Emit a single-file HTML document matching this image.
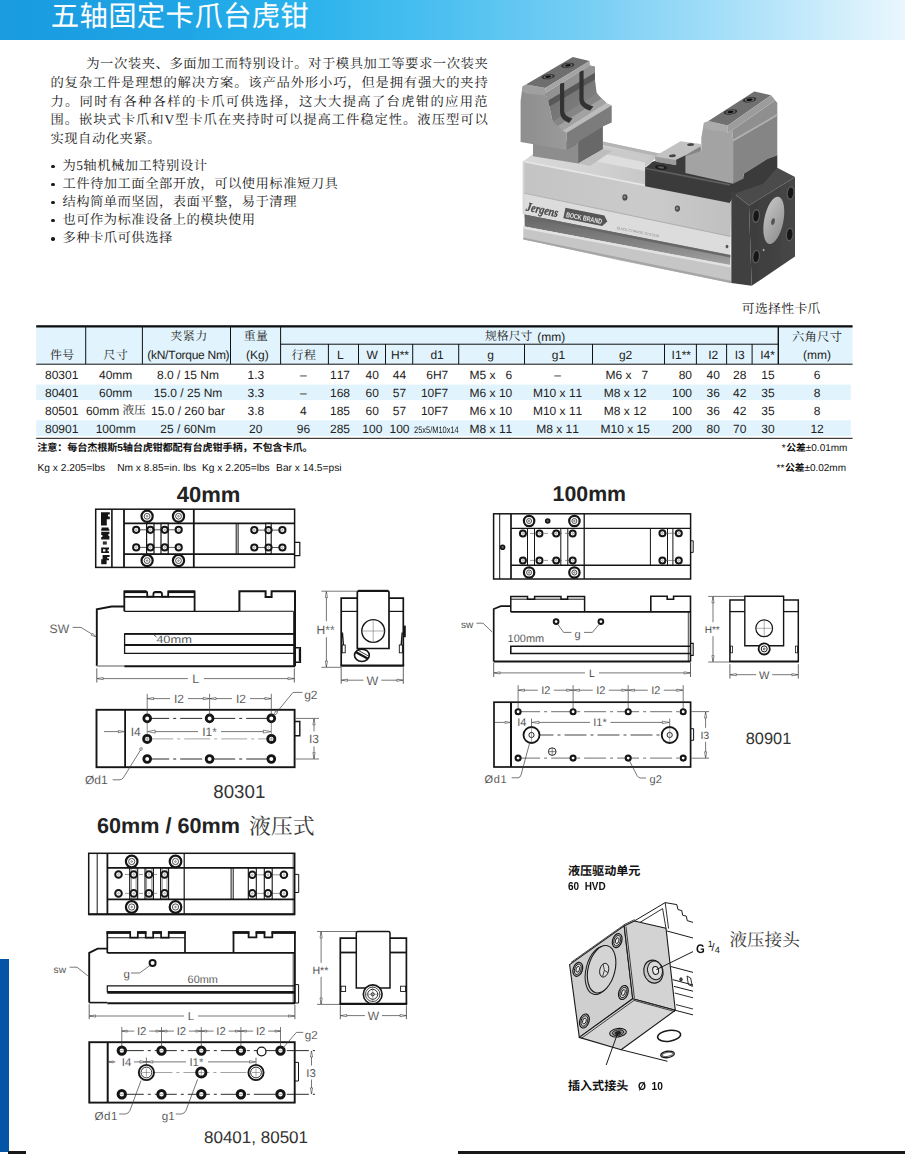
<!DOCTYPE html><html lang="zh"><head><meta charset="utf-8"><title>五轴固定卡爪台虎钳</title><style>
html,body{margin:0;padding:0;background:#fff}
body{width:905px;height:1164px;position:relative;overflow:hidden;font-family:"Liberation Sans",sans-serif;text-rendering:geometricPrecision;font-kerning:none}
svg text{text-rendering:geometricPrecision;font-kerning:none}
.hd{position:absolute;left:0;top:0;width:905px;height:40px;background:linear-gradient(90deg,#1a9be0 0,#1fa5e5 20%,#29b2ec 33%,#4fc1f0 50%,#7acff4 66%,#afe2f9 83%,#eaf7fd 100%)}
.t{position:absolute;white-space:nowrap;line-height:1}
.a{position:absolute;white-space:nowrap;line-height:1}
.sf{font-family:"Liberation Serif","Noto Serif CJK SC",serif}
.ss{font-family:"Liberation Sans","Noto Sans CJK SC",sans-serif}
svg.l{position:absolute;left:0;top:0}
.bl{position:absolute;font-size:11px;line-height:1;color:#1a1a1a;left:52.2px}
</style></head><body>
<div class="hd"></div>
<svg class="l" width="905" height="1164" viewBox="0 0 905 1164"><defs>
<filter id="pb" x="-5%" y="-5%" width="110%" height="110%"><feGaussianBlur stdDeviation="0.55"/></filter>
<filter id="pb2" x="-20%" y="-20%" width="140%" height="140%"><feGaussianBlur stdDeviation="1.6"/></filter>
<linearGradient id="pTop" x1="0" y1="0" x2="1" y2="0"><stop offset="0" stop-color="#d9d9d9"/><stop offset=".5" stop-color="#d2d2d2"/><stop offset="1" stop-color="#c4c4c4"/></linearGradient>
<linearGradient id="pFr" x1="0" y1="0" x2="1" y2="0"><stop offset="0" stop-color="#c4c4c4"/><stop offset=".6" stop-color="#cbcbcb"/><stop offset="1" stop-color="#c0c0c0"/></linearGradient>
<linearGradient id="pGr" x1="0" y1="0" x2="0" y2="1"><stop offset="0" stop-color="#646464"/><stop offset=".55" stop-color="#828282"/><stop offset="1" stop-color="#a2a2a2"/></linearGradient>
<linearGradient id="pJL" x1="0" y1="0" x2="1" y2="0"><stop offset="0" stop-color="#8e8e8e"/><stop offset="1" stop-color="#9a9a9a"/></linearGradient>
<linearGradient id="pJR" x1="0" y1="0" x2="1" y2="1"><stop offset="0" stop-color="#6a6a6a"/><stop offset=".6" stop-color="#7c7c7c"/><stop offset="1" stop-color="#909090"/></linearGradient>
<linearGradient id="pDisc" x1="0" y1="0" x2="1" y2="1"><stop offset="0" stop-color="#c6c6c6"/><stop offset="1" stop-color="#8e8e8e"/></linearGradient>
<linearGradient id="pEnd" x1="0" y1="0" x2="1" y2="0"><stop offset="0" stop-color="#3c3c3c"/><stop offset="1" stop-color="#474747"/></linearGradient>
</defs><g filter="url(#pb)"><polygon points="523.3,161.2 533.0,154.0 603.0,142.0 662.0,154.3 656.0,158.0 645.1,167.7 645.1,186.3" fill="url(#pTop)" /><polygon points="603.0,141.6 662.0,153.9 658.6,156.6 603.4,145.0" fill="#b4b4b4" /><polygon points="603.0,147.0 650.0,157.0 645.1,162.5 603.0,153.6" fill="#cacaca" /><polygon points="590.0,160.0 603.0,153.6 645.1,162.5 645.1,171.0 612.0,164.6" fill="#dedede" /><polygon points="523.3,161.2 731.3,202.7 730.6,236.3 523.3,193.0" fill="url(#pFr)" /><polygon points="523.3,160.4 645.3,184.6 645.3,186.2 523.3,162.2" fill="#e6e6e6" /><polygon points="523.3,193.0 730.6,236.3 730.4,254.9 523.3,214.3" fill="#dcdcdc" /><polygon points="523.3,192.4 730.6,235.7 730.6,236.9 523.3,193.6" fill="#b0b0b0" /><polygon points="524.6,214.5 730.4,254.9 730.4,265.5 524.6,226.6" fill="url(#pGr)" /><polygon points="524.6,214.5 730.4,254.9 730.4,257.4 524.6,217.2" fill="#686868" /><polygon points="523.3,226.6 730.8,265.5 731.3,283.1 619.6,260.4 523.3,239.2" fill="#c6c6c6" /><polygon points="523.3,226.2 730.8,265.1 730.8,267.6 523.3,228.8" fill="#e2e2e2" /><polygon points="523.3,237.4 731.0,280.8 731.3,283.3 523.3,239.6" fill="#a6a6a6" /><polygon points="522.6,161.0 524.4,161.4 524.4,214.5 522.6,214.1" fill="#d6d6d6" /><ellipse cx="624.9" cy="197.4" rx="2.6" ry="3.1" fill="#4a4a4a" /><ellipse cx="624.6" cy="197.0" rx="1.2" ry="1.5" fill="#8a8a8a" /><ellipse cx="677.4" cy="208.6" rx="2.6" ry="3.1" fill="#4a4a4a" /><ellipse cx="677.1" cy="208.2" rx="1.2" ry="1.5" fill="#8a8a8a" /><ellipse cx="727.0" cy="246.6" rx="1.4" ry="1.8" fill="#555" /><g transform="translate(525.6 210.6) rotate(11.5) scale(.80 1)"><text x="0" y="0" font-family="Liberation Serif, serif" font-style="italic" font-weight="bold" font-size="12.6" fill="#484848" stroke="#484848" stroke-width=".3">Jergens</text></g><g transform="rotate(11.2 564 213)"><path d="M564.4 207.6H604.0L608.2 213.0L604.0 218.4H564.4Z" fill="#555"/><text x="566.4" y="216.6" font-family="Liberation Sans, sans-serif" font-weight="bold" font-size="7.2" fill="#e8e8e8" textLength="36.5" lengthAdjust="spacingAndGlyphs">BOCK BRAND</text></g><text x="616.4" y="229.0" font-family="Liberation Sans, sans-serif" font-size="3.6" fill="#8a8a8a" transform="rotate(11.2 616.4 229)" textLength="43" lengthAdjust="spacing">QUICK CHANGE SYSTEM</text><polygon points="533.0,141.0 578.3,141.0 578.3,163.4 533.0,156.3" fill="#8d8d8d" /><polygon points="578.1,141.0 602.9,126.0 602.9,149.2 578.1,163.4" fill="#686868" /><polygon points="578.3,163.4 602.9,149.2 612.0,151.0 590.0,166.0" fill="#bdbdbd" /><polygon points="522.4,87.0 544.5,95.1 548.0,96.9 549.8,108.3 552.4,120.7 563.0,130.4 566.6,131.6 566.6,150.0 520.6,142.0 520.6,101.0" fill="url(#pJL)" /><polygon points="548.0,96.9 589.9,65.6 594.9,66.8 594.9,79.2 596.6,92.4 600.5,98.6 606.4,103.0 563.0,130.4 552.4,120.7 549.8,108.3" fill="url(#pJR)" /><polygon points="546.2,92.4 589.9,65.6 594.9,66.8 594.9,72.8 548.4,100.6" fill="#929292" /><polygon points="548.4,100.6 594.9,72.8 594.9,79.4 549.4,106.6" fill="#585858" /><polygon points="552.8,121.4 596.8,93.4 606.4,103.0 563.0,130.4" fill="#858585" /><polygon points="558.0,126.0 601.5,98.6 606.4,103.0 563.0,130.4" fill="#a2a2a2" /><polygon points="544.0,95.0 546.2,92.0 549.0,100.4 548.4,97.2" fill="#8a8a8a" /><path d="M560.0 83.0H564.2V111.6Q565.0 116.4 572.4 118.6L569.0 123.0Q560.4 119.6 560.0 112.6Z" fill="#333"/><path d="M579.4 70.4H583.6V99.2Q584.4 104.0 593.4 106.4L590.0 110.8Q579.8 107.2 579.4 100.2Z" fill="#333"/><polygon points="563.0,130.4 606.4,103.0 611.7,105.2 566.6,132.9" fill="#bcbcbc" /><polygon points="566.6,132.7 611.7,105.2 611.7,122.5 602.8,126.6 578.1,142.0 575.4,145.6 566.6,150.0" fill="#7b7b7b" /><polygon points="522.4,86.2 525.9,84.4 545.4,88.0 546.2,92.4 544.5,95.3 525.9,93.4 522.4,91.6" fill="#a0a0a0" /><polygon points="525.9,84.5 572.8,57.0 589.6,61.0 545.4,88.0" fill="#6e6e6e" /><polygon points="545.4,88.0 589.6,61.0 589.9,65.7 546.2,92.4" fill="#a4a4a4" /><ellipse cx="548.2" cy="76.7" rx="6.6" ry="2.5" fill="#333" transform="rotate(-8.0 548.2 76.7)" /><ellipse cx="548.2" cy="76.7" rx="4.6" ry="1.7" fill="#6a6a6a" transform="rotate(-8.0 548.2 76.7)" /><ellipse cx="548.2" cy="76.7" rx="3.0" ry="1.1" fill="#111" transform="rotate(-8.0 548.2 76.7)" /><ellipse cx="567.8" cy="65.3" rx="6.6" ry="2.5" fill="#333" transform="rotate(-8.0 567.8 65.3)" /><ellipse cx="567.8" cy="65.3" rx="4.6" ry="1.7" fill="#6a6a6a" transform="rotate(-8.0 567.8 65.3)" /><ellipse cx="567.8" cy="65.3" rx="3.0" ry="1.1" fill="#111" transform="rotate(-8.0 567.8 65.3)" /><polygon points="645.1,167.7 656.0,160.6 690.0,166.0 733.1,181.5 743.7,176.0 743.7,173.6 767.6,158.6 777.3,155.0 777.3,170.0 763.1,185.0 733.1,196.0 730.0,203.1 645.1,186.3" fill="#3b3b3b" /><polygon points="645.1,167.2 730.0,184.0 730.0,185.8 645.1,169.0" fill="#5e5e5e" /><polygon points="652.0,162.0 686.5,150.0 686.5,174.0 646.0,168.0" fill="#3b3b3b" /><polygon points="654.9,156.2 680.5,141.2 700.8,143.9 701.3,151.0 684.9,155.6 676.1,159.8 676.1,165.0 655.7,161.5" fill="#c2c2c2" /><polygon points="654.9,156.4 676.1,160.0 676.1,165.2 655.7,161.7" fill="#9c9c9c" /><polygon points="684.9,155.6 700.4,146.4 701.3,151.0 688.0,158.4" fill="#858585" /><ellipse cx="690.6" cy="144.6" rx="3.4" ry="1.4" fill="#444" transform="rotate(-6.0 690.6 144.6)" /><ellipse cx="672.4" cy="155.8" rx="3.4" ry="1.4" fill="#444" transform="rotate(-6.0 672.4 155.8)" /><ellipse cx="661.0" cy="167.4" rx="6.0" ry="2.3" fill="#1c1c1c" transform="rotate(6.0 661.0 167.4)" /><ellipse cx="661.0" cy="167.4" rx="3.2" ry="1.2" fill="#5a5a5a" transform="rotate(6.0 661.0 167.4)" /><polygon points="703.9,122.7 727.8,132.4 732.2,130.3 733.1,141.3 733.1,183.7 685.4,173.1 685.4,156.3 701.3,151.0 701.3,137.7" fill="#a3a3a3" /><polygon points="733.1,141.3 777.3,115.6 777.3,155.4 767.6,159.0 743.7,174.0 743.7,178.4 733.1,183.7" fill="#858585" /><polygon points="732.2,130.3 775.2,100.3 777.3,103.0 777.3,115.6 733.1,141.3" fill="#8f8f8f" /><polygon points="733.0,139.6 777.3,113.8 777.3,115.6 733.1,141.6" fill="#b0b0b0" /><polygon points="703.9,122.7 708.3,120.9 727.8,125.4 727.8,132.4 708.3,129.8 703.9,127.4" fill="#ababab" /><polygon points="708.3,120.9 754.3,91.4 771.1,95.3 727.8,125.4" fill="#707070" /><polygon points="727.8,125.4 771.1,95.3 775.2,100.3 732.2,130.3 727.8,132.4" fill="#9c9c9c" /><ellipse cx="730.6" cy="112.0" rx="6.8" ry="2.6" fill="#333" transform="rotate(-8.0 730.6 112.0)" /><ellipse cx="730.6" cy="112.0" rx="4.7" ry="1.8" fill="#6a6a6a" transform="rotate(-8.0 730.6 112.0)" /><ellipse cx="730.6" cy="112.0" rx="3.1" ry="1.2" fill="#111" transform="rotate(-8.0 730.6 112.0)" /><ellipse cx="749.6" cy="99.8" rx="6.8" ry="2.6" fill="#333" transform="rotate(-8.0 749.6 99.8)" /><ellipse cx="749.6" cy="99.8" rx="4.7" ry="1.8" fill="#6a6a6a" transform="rotate(-8.0 749.6 99.8)" /><ellipse cx="749.6" cy="99.8" rx="3.1" ry="1.2" fill="#111" transform="rotate(-8.0 749.6 99.8)" /><polygon points="731.3,191.2 733.1,194.3 763.1,183.7 777.3,167.8 795.0,177.1 749.0,205.4" fill="#4c4c4c" /><polygon points="731.3,191.2 749.0,205.4 751.7,285.8 731.3,283.1" fill="#414141" /><polygon points="749.0,205.4 795.0,177.1 795.0,256.6 751.7,285.8" fill="url(#pEnd)" /><ellipse cx="773.8" cy="220.4" rx="9.6" ry="24.0" fill="url(#pDisc)" transform="rotate(11.0 773.8 220.4)" /><ellipse cx="773.0" cy="221.6" rx="1.8" ry="3.4" fill="#555" transform="rotate(11.0 773.0 221.6)" /><ellipse cx="790.6" cy="193.0" rx="3.9" ry="7.0" fill="#5a5a5a" transform="rotate(6.0 790.6 193.0)" /><ellipse cx="790.6" cy="193.0" rx="2.7" ry="5.6" fill="#161616" transform="rotate(6.0 790.6 193.0)" /><ellipse cx="756.1" cy="216.0" rx="3.9" ry="7.0" fill="#5a5a5a" transform="rotate(6.0 756.1 216.0)" /><ellipse cx="756.1" cy="216.0" rx="2.7" ry="5.6" fill="#161616" transform="rotate(6.0 756.1 216.0)" /><ellipse cx="789.7" cy="234.5" rx="3.9" ry="7.0" fill="#5a5a5a" transform="rotate(6.0 789.7 234.5)" /><ellipse cx="789.7" cy="234.5" rx="2.7" ry="5.6" fill="#161616" transform="rotate(6.0 789.7 234.5)" /><ellipse cx="756.1" cy="256.6" rx="3.9" ry="7.0" fill="#5a5a5a" transform="rotate(6.0 756.1 256.6)" /><ellipse cx="756.1" cy="256.6" rx="2.7" ry="5.6" fill="#161616" transform="rotate(6.0 756.1 256.6)" /><ellipse cx="763.6" cy="250.0" rx="0.9" ry="1.2" fill="#aaa" /></g></svg>
<svg class="l" width="905" height="1164" viewBox="0 0 905 1164"><rect x="36.2" y="326.5" width="816.4" height="37.6" fill="#e1f3fc"/><rect x="36.2" y="384.6" width="814.6" height="15.5" fill="#e1f3fc"/><rect x="36.2" y="420.3" width="814.6" height="15.6" fill="#e1f3fc"/><rect x="36.2" y="325.2" width="816.4" height="2.3" fill="#111"/><rect x="36.2" y="363.7" width="816.4" height="1" fill="#111"/><rect x="36.2" y="437.8" width="816.4" height="1" fill="#111"/><rect x="280.6" y="343.7" width="497.7" height="1" fill="#111"/><rect x="85.2" y="327" width="1" height="37" fill="#111"/><rect x="141.9" y="327" width="1" height="37" fill="#111"/><rect x="230.0" y="327" width="1" height="37" fill="#111"/><rect x="280.1" y="327" width="1" height="37" fill="#111"/><rect x="327.9" y="344" width="1" height="20" fill="#111"/><rect x="358.0" y="344" width="1" height="20" fill="#111"/><rect x="385.0" y="344" width="1" height="20" fill="#111"/><rect x="412.2" y="344" width="1" height="20" fill="#111"/><rect x="458.2" y="344" width="1" height="20" fill="#111"/><rect x="524.0" y="344" width="1" height="20" fill="#111"/><rect x="592.0" y="344" width="1" height="20" fill="#111"/><rect x="664.0" y="344" width="1" height="20" fill="#111"/><rect x="695.9" y="344" width="1" height="20" fill="#111"/><rect x="726.1" y="344" width="1" height="20" fill="#111"/><rect x="751.6" y="344" width="1" height="20" fill="#111"/><rect x="777.6" y="327" width="1.4" height="37" fill="#111"/></svg>
<svg class="l" width="905" height="1164" viewBox="0 0 905 1164" fill="none" font-family="Liberation Sans, sans-serif" stroke-linecap="butt" stroke-linejoin="miter"><rect x="95.7" y="509.2" width="198.9" height="58.2" stroke="#151515" stroke-width="1.50" fill="none"/><path d="M111.9 509.2L111.9 567.4" stroke="#151515" stroke-width="1.60" /><path d="M124.0 509.2L124.0 567.4" stroke="#151515" stroke-width="1.80" /><path d="M193.8 509.2L193.8 567.4" stroke="#151515" stroke-width="1.80" /><path d="M124.0 523.3L294.6 523.3" stroke="#151515" stroke-width="1.80" /><path d="M124.0 554.2L294.6 554.2" stroke="#151515" stroke-width="1.80" /><path d="M101 512.2H109.8V514.6H108V516.4H109.8V519.2H106.8V525.4H101Z" stroke="#151515" stroke-width="0.00" fill="#151515" /><path d="M101.6 527.4H108.6V529.2H109.4V530.8H101.2V529H101.6ZM101.2 531.7H109.4V534H108.4V536H109.4V539.5H101.2V537H102.4V535H101.2Z" stroke="#151515" stroke-width="0.00" fill="#151515" /><path d="M102.8 541.4H106.8V544.6H102.8Z" stroke="#333" stroke-width="0.00" fill="#333" /><path d="M101.2 547.6H109V549.4H107.6V551.2H109V553.1H101.2ZM103 549.2V551.4H105.4V549.2Z" stroke="#151515" stroke-width="0.00" fill="#151515" fill-rule="evenodd"/><path d="M101.2 564.3V559.2H102.6V555.1H109.6V557H107.2V558.6H109V560.2H106.6V564.3Z" stroke="#151515" stroke-width="0.00" fill="#151515" /><rect x="146.6" y="523.3" width="7.4" height="30.9" stroke="#151515" stroke-width="1.20" fill="none"/><rect x="161.0" y="523.3" width="7.2" height="30.9" stroke="#151515" stroke-width="1.20" fill="none"/><path d="M136.0 529.8L179.0 529.8" stroke="#151515" stroke-width="0.70" /><path d="M136.0 547.4L179.0 547.4" stroke="#151515" stroke-width="0.70" /><circle cx="147.1" cy="516.3" r="5.60" stroke="#151515" stroke-width="2.20" fill="#fff"/><circle cx="147.1" cy="516.3" r="2.90" stroke="#222" stroke-width="0.80" fill="none"/><circle cx="147.1" cy="516.3" r="0.80" stroke="#333" stroke-width="0.60" fill="none"/><circle cx="147.1" cy="560.6" r="5.60" stroke="#151515" stroke-width="2.20" fill="#fff"/><circle cx="147.1" cy="560.6" r="2.90" stroke="#222" stroke-width="0.80" fill="none"/><circle cx="147.1" cy="560.6" r="0.80" stroke="#333" stroke-width="0.60" fill="none"/><circle cx="178.5" cy="516.3" r="5.60" stroke="#151515" stroke-width="2.20" fill="#fff"/><circle cx="178.5" cy="516.3" r="2.90" stroke="#222" stroke-width="0.80" fill="none"/><circle cx="178.5" cy="516.3" r="0.80" stroke="#333" stroke-width="0.60" fill="none"/><circle cx="178.5" cy="560.6" r="5.60" stroke="#151515" stroke-width="2.20" fill="#fff"/><circle cx="178.5" cy="560.6" r="2.90" stroke="#222" stroke-width="0.80" fill="none"/><circle cx="178.5" cy="560.6" r="0.80" stroke="#333" stroke-width="0.60" fill="none"/><circle cx="136.2" cy="529.8" r="3.10" stroke="#151515" stroke-width="2.00" fill="#fff"/><circle cx="136.2" cy="529.8" r="0.80" stroke="#666" stroke-width="0.50" fill="none"/><circle cx="136.2" cy="547.4" r="3.10" stroke="#151515" stroke-width="2.00" fill="#fff"/><circle cx="136.2" cy="547.4" r="0.80" stroke="#666" stroke-width="0.50" fill="none"/><circle cx="150.4" cy="529.8" r="3.10" stroke="#151515" stroke-width="2.00" fill="#fff"/><circle cx="150.4" cy="529.8" r="0.80" stroke="#666" stroke-width="0.50" fill="none"/><circle cx="150.4" cy="547.4" r="3.10" stroke="#151515" stroke-width="2.00" fill="#fff"/><circle cx="150.4" cy="547.4" r="0.80" stroke="#666" stroke-width="0.50" fill="none"/><circle cx="164.7" cy="529.8" r="3.10" stroke="#151515" stroke-width="2.00" fill="#fff"/><circle cx="164.7" cy="529.8" r="0.80" stroke="#666" stroke-width="0.50" fill="none"/><circle cx="164.7" cy="547.4" r="3.10" stroke="#151515" stroke-width="2.00" fill="#fff"/><circle cx="164.7" cy="547.4" r="0.80" stroke="#666" stroke-width="0.50" fill="none"/><circle cx="178.7" cy="529.8" r="3.10" stroke="#151515" stroke-width="2.00" fill="#fff"/><circle cx="178.7" cy="529.8" r="0.80" stroke="#666" stroke-width="0.50" fill="none"/><circle cx="178.7" cy="547.4" r="3.10" stroke="#151515" stroke-width="2.00" fill="#fff"/><circle cx="178.7" cy="547.4" r="0.80" stroke="#666" stroke-width="0.50" fill="none"/><path d="M236.2 523.3L236.2 554.2" stroke="#151515" stroke-width="1.00" /><path d="M238.1 523.3L238.1 554.2" stroke="#151515" stroke-width="1.00" /><rect x="265.7" y="523.3" width="5.5" height="30.9" stroke="#151515" stroke-width="1.10" fill="none"/><path d="M254.0 530.1L283.0 530.1" stroke="#151515" stroke-width="0.70" /><path d="M254.0 547.5L283.0 547.5" stroke="#151515" stroke-width="0.70" /><circle cx="254.3" cy="530.1" r="3.10" stroke="#151515" stroke-width="2.00" fill="#fff"/><circle cx="254.3" cy="530.1" r="0.80" stroke="#666" stroke-width="0.50" fill="none"/><circle cx="254.3" cy="547.5" r="3.10" stroke="#151515" stroke-width="2.00" fill="#fff"/><circle cx="254.3" cy="547.5" r="0.80" stroke="#666" stroke-width="0.50" fill="none"/><circle cx="268.5" cy="530.1" r="3.10" stroke="#151515" stroke-width="2.00" fill="#fff"/><circle cx="268.5" cy="530.1" r="0.80" stroke="#666" stroke-width="0.50" fill="none"/><circle cx="268.5" cy="547.5" r="3.10" stroke="#151515" stroke-width="2.00" fill="#fff"/><circle cx="268.5" cy="547.5" r="0.80" stroke="#666" stroke-width="0.50" fill="none"/><circle cx="282.4" cy="530.1" r="3.10" stroke="#151515" stroke-width="2.00" fill="#fff"/><circle cx="282.4" cy="530.1" r="0.80" stroke="#666" stroke-width="0.50" fill="none"/><circle cx="282.4" cy="547.5" r="3.10" stroke="#151515" stroke-width="2.00" fill="#fff"/><circle cx="282.4" cy="547.5" r="0.80" stroke="#666" stroke-width="0.50" fill="none"/><path d="M294.6 542.4H299.8V555.7H294.6" stroke="#151515" stroke-width="1.20" fill="none" /><path d="M124.3 606.5H111.6L96.8 609.4V666.0" stroke="#151515" stroke-width="1.90" fill="none" /><path d="M96.8 666.0L124.3 666.0" stroke="#999" stroke-width="1.60" /><path d="M124.3 666.2L295.0 666.2" stroke="#151515" stroke-width="2.00" /><path d="M124.3 611.3V591.3H145.6Q147.2 591.3 147.2 593V596.6H153.4V594.2Q153.4 591.8 155.8 591.8H159.6Q162 591.8 162 594.2V596.6H168.2V591.3H194.6V611.3" stroke="#151515" stroke-width="1.80" fill="none" /><path d="M124.3 591.8L146.4 591.8" stroke="#151515" stroke-width="2.60" /><path d="M168.4 591.8L194.6 591.8" stroke="#151515" stroke-width="2.60" /><path d="M154.6 592.2L160.8 592.2" stroke="#151515" stroke-width="2.00" /><path d="M124.3 596.8L194.6 596.8" stroke="#151515" stroke-width="1.80" /><path d="M124.3 611.3L239.2 611.3" stroke="#151515" stroke-width="1.20" /><path d="M239.4 611.3V591.3H265.6V597.0H271.6V591.3H295.0V666.2" stroke="#151515" stroke-width="2.00" fill="none" /><path d="M239.4 611.3L293.6 611.3" stroke="#151515" stroke-width="1.10" /><path d="M293.6 611.3L293.6 666.0" stroke="#151515" stroke-width="0.90" /><path d="M295 633.8H124.6V653.4H295" stroke="#151515" stroke-width="1.30" fill="none" /><path d="M124.6 633.8L295.0 633.8" stroke="#151515" stroke-width="1.80" /><path d="M124.6 645.0L295.0 645.0" stroke="#151515" stroke-width="2.00" /><path d="M295.5 647.8H300.4V662.2H295.5" stroke="#151515" stroke-width="1.40" fill="none" /><path d="M299.6 648.5L299.6 661.5" stroke="#151515" stroke-width="1.60" /><text x="156.2" y="642.8" font-size="10.6" text-anchor="start" fill="#444" stroke="#fff" stroke-width="0.09" textLength="35.8" lengthAdjust="spacingAndGlyphs">40mm</text><path d="M154.0 634.8L156.5 637.0" stroke="#333" stroke-width="0.90" /><text x="49.5" y="633.0" font-size="12.2" text-anchor="start" fill="#383838" stroke="#fff" stroke-width="0.17" >SW</text><path d="M72.7 627.4H81.0L95.6 636.4" stroke="#3c3c3c" stroke-width="0.70" fill="none" /><path d="M95.8 636.6L91.2 635.3L92.6 633.2Z" stroke="#3c3c3c" stroke-width="0.60" fill="#fff" /><path d="M96.8 668.4L96.8 682.5" stroke="#3c3c3c" stroke-width="0.80" /><path d="M294.3 668.4L294.3 682.5" stroke="#3c3c3c" stroke-width="0.80" /><path d="M97.2 678.6L187.8 678.6" stroke="#3c3c3c" stroke-width="0.70" /><path d="M203.8 678.6L293.9 678.6" stroke="#3c3c3c" stroke-width="0.70" /><path d="M97.2 678.6L103.2 677.5L103.2 679.7Z" stroke="#3c3c3c" stroke-width="0.60" fill="#fff" /><path d="M293.9 678.6L287.9 677.5L287.9 679.7Z" stroke="#3c3c3c" stroke-width="0.60" fill="#fff" /><text x="195.8" y="683.1" font-size="12.5" text-anchor="middle" fill="#383838" stroke="#fff" stroke-width="0.18" >L</text><path d="M321.4 591.2L357.0 591.2" stroke="#3c3c3c" stroke-width="0.70" /><path d="M321.4 667.3L341.0 667.3" stroke="#3c3c3c" stroke-width="0.70" /><path d="M326.4 591.6L326.4 621.2" stroke="#3c3c3c" stroke-width="0.70" /><path d="M326.4 637.2L326.4 667.0" stroke="#3c3c3c" stroke-width="0.70" /><path d="M326.4 591.6L325.3 597.6L327.5 597.6Z" stroke="#3c3c3c" stroke-width="0.60" fill="#fff" /><path d="M326.4 667.0L325.3 661.0L327.5 661.0Z" stroke="#3c3c3c" stroke-width="0.60" fill="#fff" /><text x="325.6" y="633.5" font-size="12.0" text-anchor="middle" fill="#383838" stroke="#fff" stroke-width="0.16" >H**</text><path d="M341.2 665.4V598.2H357.2M389.0 598.2H403.3V665.4" stroke="#151515" stroke-width="1.70" fill="none" /><path d="M340.4 665.6L404.2 665.6" stroke="#151515" stroke-width="2.20" /><path d="M357.3 648.5V592.8Q357.3 590.9 359.2 590.9H387.1Q389.0 590.9 389.0 592.8V648.5Z" stroke="#151515" stroke-width="1.70" fill="none" /><path d="M358.0 590.9L388.3 590.9" stroke="#151515" stroke-width="2.20" /><path d="M341.2 611.4L357.2 611.4" stroke="#151515" stroke-width="1.20" /><path d="M389.0 611.4L403.3 611.4" stroke="#151515" stroke-width="1.20" /><circle cx="373.2" cy="631.0" r="11.40" stroke="#151515" stroke-width="1.40" fill="#fff"/><path d="M373.2 619.6L373.2 642.4" stroke="#777" stroke-width="0.60" /><path d="M361.8 631.0L384.6 631.0" stroke="#777" stroke-width="0.60" /><ellipse cx="361.9" cy="655.3" rx="7.40" ry="6.20" stroke="#151515" stroke-width="1.60" fill="#fff"/><path d="M355.6 652.0L368.0 658.8" stroke="#151515" stroke-width="2.40" /><path d="M357.2 649.8L369.2 656.4" stroke="#151515" stroke-width="0.80" /><rect x="342.2" y="645.0" width="3.0" height="7.8" stroke="#151515" stroke-width="0.90" fill="none"/><rect x="399.3" y="645.0" width="3.1" height="7.8" stroke="#151515" stroke-width="0.90" fill="none"/><path d="M342.4 632.5L343.4 645.0" stroke="#151515" stroke-width="1.40" /><path d="M402.2 632.5L401.2 645.0" stroke="#151515" stroke-width="1.40" /><path d="M404.8 625.6L404.8 637.2" stroke="#151515" stroke-width="2.00" /><path d="M341.2 667.2L341.2 683.8" stroke="#3c3c3c" stroke-width="0.80" /><path d="M403.3 667.2L403.3 683.8" stroke="#3c3c3c" stroke-width="0.80" /><path d="M341.6 680.2L363.4 680.2" stroke="#3c3c3c" stroke-width="0.70" /><path d="M381.4 680.2L402.9 680.2" stroke="#3c3c3c" stroke-width="0.70" /><path d="M341.6 680.2L347.6 679.1L347.6 681.3Z" stroke="#3c3c3c" stroke-width="0.60" fill="#fff" /><path d="M402.9 680.2L396.9 679.1L396.9 681.3Z" stroke="#3c3c3c" stroke-width="0.60" fill="#fff" /><text x="372.4" y="684.7" font-size="12.5" text-anchor="middle" fill="#383838" stroke="#fff" stroke-width="0.18" >W</text><rect x="96.5" y="709.8" width="198.1" height="57.4" stroke="#151515" stroke-width="1.90" fill="none"/><path d="M125.1 709.8L125.1 767.2" stroke="#151515" stroke-width="1.80" /><path d="M294.6 721.5H299.8V735.7H294.6" stroke="#151515" stroke-width="1.40" fill="none" /><path d="M147.2 718.4L271.3 718.4" stroke="#151515" stroke-width="0.90" stroke-dasharray="22 4 3 4"/><path d="M147.2 759.0L271.3 759.0" stroke="#151515" stroke-width="0.90" stroke-dasharray="22 4 3 4"/><path d="M147.2 738.9L271.3 738.9" stroke="#666" stroke-width="0.60" stroke-dasharray="26 4 3 4"/><circle cx="147.2" cy="718.4" r="3.40" stroke="#151515" stroke-width="2.80" fill="#fff"/><circle cx="147.2" cy="759.0" r="3.40" stroke="#151515" stroke-width="2.80" fill="#fff"/><circle cx="209.6" cy="718.4" r="3.40" stroke="#151515" stroke-width="2.80" fill="#fff"/><circle cx="209.6" cy="759.0" r="3.40" stroke="#151515" stroke-width="2.80" fill="#fff"/><circle cx="271.3" cy="718.4" r="3.40" stroke="#151515" stroke-width="2.80" fill="#fff"/><circle cx="271.3" cy="759.0" r="3.40" stroke="#151515" stroke-width="2.80" fill="#fff"/><circle cx="147.2" cy="738.9" r="3.60" stroke="#151515" stroke-width="2.80" fill="#fff"/><path d="M144.8 738.9L149.6 738.9" stroke="#666" stroke-width="0.50" /><path d="M147.2 736.5L147.2 741.3" stroke="#666" stroke-width="0.50" /><circle cx="271.3" cy="738.9" r="3.60" stroke="#151515" stroke-width="2.80" fill="#fff"/><path d="M268.9 738.9L273.7 738.9" stroke="#666" stroke-width="0.50" /><path d="M271.3 736.5L271.3 741.3" stroke="#666" stroke-width="0.50" /><path d="M147.2 693.8L147.2 715.0" stroke="#3c3c3c" stroke-width="0.70" /><path d="M209.6 693.8L209.6 715.0" stroke="#3c3c3c" stroke-width="0.70" /><path d="M271.3 693.8L271.3 715.0" stroke="#3c3c3c" stroke-width="0.70" /><path d="M147.6 698.6L170.0 698.6" stroke="#3c3c3c" stroke-width="0.70" /><path d="M188.0 698.6L209.2 698.6" stroke="#3c3c3c" stroke-width="0.70" /><path d="M147.6 698.6L153.6 697.5L153.6 699.7Z" stroke="#3c3c3c" stroke-width="0.60" fill="#fff" /><path d="M209.2 698.6L203.2 697.5L203.2 699.7Z" stroke="#3c3c3c" stroke-width="0.60" fill="#fff" /><text x="179.0" y="702.9" font-size="12.0" text-anchor="middle" fill="#383838" stroke="#fff" stroke-width="0.16" >I2</text><path d="M210.0 698.6L232.0 698.6" stroke="#3c3c3c" stroke-width="0.70" /><path d="M250.0 698.6L270.9 698.6" stroke="#3c3c3c" stroke-width="0.70" /><path d="M210.0 698.6L216.0 697.5L216.0 699.7Z" stroke="#3c3c3c" stroke-width="0.60" fill="#fff" /><path d="M270.9 698.6L264.9 697.5L264.9 699.7Z" stroke="#3c3c3c" stroke-width="0.60" fill="#fff" /><text x="241.0" y="702.9" font-size="12.0" text-anchor="middle" fill="#383838" stroke="#fff" stroke-width="0.16" >I2</text><path d="M104.0 731.6L118.5 731.6" stroke="#3c3c3c" stroke-width="0.70" /><path d="M124.4 731.6L118.4 730.5L118.4 732.7Z" stroke="#3c3c3c" stroke-width="0.60" fill="#fff" /><text x="135.7" y="735.8" font-size="12.0" text-anchor="middle" fill="#383838" stroke="#fff" stroke-width="0.16" >I4</text><path d="M147.6 731.6L155.1 730.1L155.1 733.1Z" stroke="#3c3c3c" stroke-width="0.60" fill="#fff" /><path d="M155.0 731.6L198.0 731.6" stroke="#3c3c3c" stroke-width="0.70" /><text x="209.6" y="736.0" font-size="12.0" text-anchor="middle" fill="#383838" stroke="#fff" stroke-width="0.16" >I1*</text><path d="M221.0 731.6L264.0 731.6" stroke="#3c3c3c" stroke-width="0.70" /><path d="M270.9 731.6L263.4 730.1L263.4 733.1Z" stroke="#3c3c3c" stroke-width="0.60" fill="#fff" /><path d="M147.2 722.0L147.2 735.0" stroke="#3c3c3c" stroke-width="0.60" /><path d="M271.3 722.0L271.3 735.0" stroke="#3c3c3c" stroke-width="0.60" /><path d="M295.6 718.4L319.0 718.4" stroke="#3c3c3c" stroke-width="0.70" /><path d="M295.6 759.0L319.0 759.0" stroke="#3c3c3c" stroke-width="0.70" /><path d="M314.0 718.8L314.0 731.4" stroke="#3c3c3c" stroke-width="0.70" /><path d="M314.0 746.4L314.0 758.6" stroke="#3c3c3c" stroke-width="0.70" /><path d="M314.0 718.8L312.9 724.8L315.1 724.8Z" stroke="#3c3c3c" stroke-width="0.60" fill="#fff" /><path d="M314.0 758.6L312.9 752.6L315.1 752.6Z" stroke="#3c3c3c" stroke-width="0.60" fill="#fff" /><text x="314.0" y="743.2" font-size="12.0" text-anchor="middle" fill="#383838" stroke="#fff" stroke-width="0.16" >I3</text><text x="304.2" y="699.0" font-size="12.0" text-anchor="start" fill="#383838" stroke="#fff" stroke-width="0.16" >g2</text><path d="M302.4 692.4H293.0L274.4 715.2" stroke="#3c3c3c" stroke-width="0.70" fill="none" /><path d="M274.0 715.8L275.4 711.0L277.6 712.8Z" stroke="#3c3c3c" stroke-width="0.60" fill="#fff" /><text x="85.0" y="784.4" font-size="12.0" text-anchor="start" fill="#383838" stroke="#fff" stroke-width="0.16" >Ød1</text><path d="M112.6 779.8H120.0Q122.4 779.6 123.8 777.0L142.0 747.6" stroke="#3c3c3c" stroke-width="0.70" fill="none" /><circle cx="141.0" cy="749.0" r="1.30" stroke="#3c3c3c" stroke-width="0.60" fill="#fff"/><rect x="493.6" y="513.8" width="197.0" height="65.2" stroke="#151515" stroke-width="1.50" fill="none"/><path d="M499.7 513.8L499.7 579.0" stroke="#151515" stroke-width="1.00" /><path d="M511.0 513.8L511.0 579.0" stroke="#151515" stroke-width="1.70" /><path d="M584.2 513.8L584.2 579.0" stroke="#151515" stroke-width="1.30" /><path d="M511.0 528.4L690.6 528.4" stroke="#151515" stroke-width="1.40" /><path d="M511.0 565.2L690.6 565.2" stroke="#151515" stroke-width="1.40" /><circle cx="502.6" cy="547.3" r="2.00" stroke="#151515" stroke-width="1.60" fill="#666"/><circle cx="547.7" cy="521.0" r="2.00" stroke="#151515" stroke-width="1.60" fill="#555"/><path d="M527.5 528.4L527.5 565.2" stroke="#151515" stroke-width="1.00" /><path d="M534.5 528.4L534.5 565.2" stroke="#151515" stroke-width="1.00" /><path d="M560.8 528.4L560.8 565.2" stroke="#151515" stroke-width="1.00" /><path d="M567.8 528.4L567.8 565.2" stroke="#151515" stroke-width="1.00" /><path d="M523.0 533.4L573.0 533.4" stroke="#555" stroke-width="0.60" stroke-dasharray="4 3"/><path d="M523.0 560.4L573.0 560.4" stroke="#555" stroke-width="0.60" stroke-dasharray="4 3"/><circle cx="529.1" cy="521.0" r="5.20" stroke="#151515" stroke-width="2.20" fill="#fff"/><circle cx="529.1" cy="521.0" r="2.50" stroke="#222" stroke-width="0.80" fill="none"/><circle cx="529.1" cy="521.0" r="0.80" stroke="#333" stroke-width="0.60" fill="none"/><circle cx="529.1" cy="572.5" r="5.20" stroke="#151515" stroke-width="2.20" fill="#fff"/><circle cx="529.1" cy="572.5" r="2.50" stroke="#222" stroke-width="0.80" fill="none"/><circle cx="529.1" cy="572.5" r="0.80" stroke="#333" stroke-width="0.60" fill="none"/><circle cx="574.4" cy="521.0" r="5.20" stroke="#151515" stroke-width="2.20" fill="#fff"/><circle cx="574.4" cy="521.0" r="2.50" stroke="#222" stroke-width="0.80" fill="none"/><circle cx="574.4" cy="521.0" r="0.80" stroke="#333" stroke-width="0.60" fill="none"/><circle cx="574.4" cy="572.5" r="5.20" stroke="#151515" stroke-width="2.20" fill="#fff"/><circle cx="574.4" cy="572.5" r="2.50" stroke="#222" stroke-width="0.80" fill="none"/><circle cx="574.4" cy="572.5" r="0.80" stroke="#333" stroke-width="0.60" fill="none"/><circle cx="522.9" cy="533.4" r="3.00" stroke="#151515" stroke-width="2.00" fill="#fff"/><circle cx="522.9" cy="533.4" r="0.80" stroke="#666" stroke-width="0.50" fill="none"/><circle cx="522.9" cy="560.4" r="3.00" stroke="#151515" stroke-width="2.00" fill="#fff"/><circle cx="522.9" cy="560.4" r="0.80" stroke="#666" stroke-width="0.50" fill="none"/><circle cx="539.5" cy="533.4" r="3.00" stroke="#151515" stroke-width="2.00" fill="#fff"/><circle cx="539.5" cy="533.4" r="0.80" stroke="#666" stroke-width="0.50" fill="none"/><circle cx="539.5" cy="560.4" r="3.00" stroke="#151515" stroke-width="2.00" fill="#fff"/><circle cx="539.5" cy="560.4" r="0.80" stroke="#666" stroke-width="0.50" fill="none"/><circle cx="556.2" cy="533.4" r="3.00" stroke="#151515" stroke-width="2.00" fill="#fff"/><circle cx="556.2" cy="533.4" r="0.80" stroke="#666" stroke-width="0.50" fill="none"/><circle cx="556.2" cy="560.4" r="3.00" stroke="#151515" stroke-width="2.00" fill="#fff"/><circle cx="556.2" cy="560.4" r="0.80" stroke="#666" stroke-width="0.50" fill="none"/><circle cx="572.7" cy="533.4" r="3.00" stroke="#151515" stroke-width="2.00" fill="#fff"/><circle cx="572.7" cy="533.4" r="0.80" stroke="#666" stroke-width="0.50" fill="none"/><circle cx="572.7" cy="560.4" r="3.00" stroke="#151515" stroke-width="2.00" fill="#fff"/><circle cx="572.7" cy="560.4" r="0.80" stroke="#666" stroke-width="0.50" fill="none"/><path d="M650.4 528.4L650.4 565.2" stroke="#151515" stroke-width="1.00" /><path d="M667.5 528.4L667.5 565.2" stroke="#151515" stroke-width="1.00" /><path d="M672.9 528.4L672.9 565.2" stroke="#151515" stroke-width="1.00" /><path d="M662.0 533.3L679.0 533.3" stroke="#555" stroke-width="0.60" /><path d="M662.0 560.5L679.0 560.5" stroke="#555" stroke-width="0.60" /><circle cx="662.4" cy="533.3" r="3.00" stroke="#151515" stroke-width="2.00" fill="#fff"/><circle cx="662.4" cy="533.3" r="0.80" stroke="#666" stroke-width="0.50" fill="none"/><circle cx="662.4" cy="560.5" r="3.00" stroke="#151515" stroke-width="2.00" fill="#fff"/><circle cx="662.4" cy="560.5" r="0.80" stroke="#666" stroke-width="0.50" fill="none"/><circle cx="678.8" cy="533.3" r="3.00" stroke="#151515" stroke-width="2.00" fill="#fff"/><circle cx="678.8" cy="533.3" r="0.80" stroke="#666" stroke-width="0.50" fill="none"/><circle cx="678.8" cy="560.5" r="3.00" stroke="#151515" stroke-width="2.00" fill="#fff"/><circle cx="678.8" cy="560.5" r="0.80" stroke="#666" stroke-width="0.50" fill="none"/><path d="M690.6 540.8H693.2V552.4H690.6" stroke="#151515" stroke-width="1.00" fill="none" /><path d="M510.8 606.2H500.8L493.7 609.0V661.4" stroke="#151515" stroke-width="1.70" fill="none" /><path d="M493.7 661.5L690.6 661.5" stroke="#151515" stroke-width="1.80" /><path d="M510.8 611.9V596.6H527.5V599.2H534.6V596.6H561.0V599.2H567.6V596.6H584.6V611.9" stroke="#151515" stroke-width="1.50" fill="none" /><path d="M510.8 599.2L584.6 599.2" stroke="#151515" stroke-width="1.00" /><path d="M510.8 611.9L690.6 611.9" stroke="#151515" stroke-width="1.70" /><path d="M650.8 611.9V596.2H667.2V599.2H673.6V596.2H690.5V661.5" stroke="#151515" stroke-width="1.60" fill="none" /><path d="M688.3 611.9L688.3 661.5" stroke="#151515" stroke-width="0.80" /><path d="M690.5 646.2H510.8V653.5H690.5" stroke="#151515" stroke-width="1.60" fill="none" /><path d="M690.5 643.4H693.2V655.4H690.5" stroke="#151515" stroke-width="1.10" fill="none" /><circle cx="556.1" cy="621.6" r="2.40" stroke="#151515" stroke-width="1.90" fill="#fff"/><circle cx="600.9" cy="621.6" r="2.40" stroke="#151515" stroke-width="1.90" fill="#fff"/><path d="M557.6 624.0L563.6 632.4H571.5" stroke="#3c3c3c" stroke-width="0.70" fill="none" /><path d="M599.4 624.0L592.4 632.4H584.0" stroke="#3c3c3c" stroke-width="0.70" fill="none" /><text x="577.6" y="638.4" font-size="11.0" text-anchor="middle" fill="#383838" stroke="#fff" stroke-width="0.11" >g</text><text x="507.6" y="642.0" font-size="10.6" text-anchor="start" fill="#444" stroke="#fff" stroke-width="0.09" textLength="36.6" lengthAdjust="spacingAndGlyphs">100mm</text><text x="461.0" y="628.4" font-size="10.0" text-anchor="start" fill="#383838" stroke="#fff" stroke-width="0.07" >sw</text><path d="M476.4 623.2H483.0L492.2 632.0" stroke="#3c3c3c" stroke-width="0.70" fill="none" /><path d="M493.7 662.8L493.7 677.0" stroke="#3c3c3c" stroke-width="0.80" /><path d="M690.5 662.8L690.5 677.0" stroke="#3c3c3c" stroke-width="0.80" /><path d="M494.1 672.9L585.0 672.9" stroke="#3c3c3c" stroke-width="0.70" /><path d="M599.0 672.9L690.1 672.9" stroke="#3c3c3c" stroke-width="0.70" /><path d="M494.1 672.9L500.1 671.8L500.1 674.0Z" stroke="#3c3c3c" stroke-width="0.60" fill="#fff" /><path d="M690.1 672.9L684.1 671.8L684.1 674.0Z" stroke="#3c3c3c" stroke-width="0.60" fill="#fff" /><text x="592.0" y="676.7" font-size="10.5" text-anchor="middle" fill="#383838" stroke="#fff" stroke-width="0.09" >L</text><path d="M708.2 596.4L744.8 596.4" stroke="#3c3c3c" stroke-width="0.70" /><path d="M708.2 662.0L729.8 662.0" stroke="#3c3c3c" stroke-width="0.70" /><path d="M713.0 596.8L713.0 622.2" stroke="#3c3c3c" stroke-width="0.70" /><path d="M713.0 636.2L713.0 661.6" stroke="#3c3c3c" stroke-width="0.70" /><path d="M713.0 596.8L711.9 602.8L714.1 602.8Z" stroke="#3c3c3c" stroke-width="0.60" fill="#fff" /><path d="M713.0 661.6L711.9 655.6L714.1 655.6Z" stroke="#3c3c3c" stroke-width="0.60" fill="#fff" /><text x="712.2" y="632.8" font-size="10.0" text-anchor="middle" fill="#383838" stroke="#fff" stroke-width="0.07" >H**</text><path d="M729.9 661.3V600.0H744.8M783.6 600.0H798.3V661.3" stroke="#151515" stroke-width="1.50" fill="none" /><path d="M729.2 661.4L799.0 661.4" stroke="#151515" stroke-width="2.00" /><path d="M744.8 645.8V596.2H783.6V645.8Z" stroke="#151515" stroke-width="1.40" fill="none" /><path d="M729.9 611.6L744.8 611.6" stroke="#151515" stroke-width="1.30" /><path d="M783.6 611.6L798.3 611.6" stroke="#151515" stroke-width="1.30" /><circle cx="764.2" cy="628.3" r="8.40" stroke="#151515" stroke-width="1.20" fill="#fff"/><path d="M764.2 620.0L764.2 636.6" stroke="#777" stroke-width="0.60" /><path d="M755.9 628.3L772.5 628.3" stroke="#777" stroke-width="0.60" /><circle cx="764.2" cy="648.9" r="5.60" stroke="#151515" stroke-width="1.80" fill="#fff"/><circle cx="764.2" cy="648.9" r="3.00" stroke="#151515" stroke-width="1.00" fill="#fff"/><circle cx="764.2" cy="648.9" r="0.90" stroke="#151515" stroke-width="0.70" fill="none"/><rect x="730.6" y="646.1" width="2.0" height="6.7" stroke="#151515" stroke-width="0.80" fill="none"/><rect x="795.4" y="646.1" width="2.1" height="6.7" stroke="#151515" stroke-width="0.80" fill="none"/><path d="M729.9 664.2L729.9 678.6" stroke="#3c3c3c" stroke-width="0.80" /><path d="M798.3 664.2L798.3 678.6" stroke="#3c3c3c" stroke-width="0.80" /><path d="M730.3 674.7L756.2 674.7" stroke="#3c3c3c" stroke-width="0.70" /><path d="M772.2 674.7L797.9 674.7" stroke="#3c3c3c" stroke-width="0.70" /><path d="M730.3 674.7L736.3 673.6L736.3 675.8Z" stroke="#3c3c3c" stroke-width="0.60" fill="#fff" /><path d="M797.9 674.7L791.9 673.6L791.9 675.8Z" stroke="#3c3c3c" stroke-width="0.60" fill="#fff" /><text x="764.2" y="678.7" font-size="11.0" text-anchor="middle" fill="#383838" stroke="#fff" stroke-width="0.11" >W</text><rect x="494.0" y="702.2" width="196.6" height="64.8" stroke="#151515" stroke-width="1.70" fill="none"/><path d="M511.0 702.2L511.0 767.0" stroke="#151515" stroke-width="2.00" /><path d="M690.6 728.7H693.6V740.3H690.6" stroke="#151515" stroke-width="1.00" fill="none" /><path d="M518.1 711.7L683.2 711.7" stroke="#333" stroke-width="0.70" stroke-dasharray="22 4 3 4"/><path d="M518.1 758.1L683.2 758.1" stroke="#333" stroke-width="0.70" stroke-dasharray="22 4 3 4"/><path d="M531.5 735.0L669.7 735.0" stroke="#151515" stroke-width="0.80" stroke-dasharray="22 4 3 4"/><circle cx="518.1" cy="711.7" r="2.50" stroke="#151515" stroke-width="2.10" fill="#fff"/><circle cx="518.1" cy="758.1" r="2.50" stroke="#151515" stroke-width="2.10" fill="#fff"/><circle cx="573.1" cy="711.7" r="2.50" stroke="#151515" stroke-width="2.10" fill="#fff"/><circle cx="573.1" cy="758.1" r="2.50" stroke="#151515" stroke-width="2.10" fill="#fff"/><circle cx="628.2" cy="711.7" r="2.50" stroke="#151515" stroke-width="2.10" fill="#fff"/><circle cx="628.2" cy="758.1" r="2.50" stroke="#151515" stroke-width="2.10" fill="#fff"/><circle cx="683.2" cy="711.7" r="2.50" stroke="#151515" stroke-width="2.10" fill="#fff"/><circle cx="683.2" cy="758.1" r="2.50" stroke="#151515" stroke-width="2.10" fill="#fff"/><circle cx="531.5" cy="735.0" r="8.00" stroke="#151515" stroke-width="1.80" fill="#fff"/><circle cx="531.5" cy="735.0" r="2.60" stroke="#151515" stroke-width="0.90" fill="#fff"/><path d="M531.5 726.6L531.5 743.4" stroke="#555" stroke-width="0.50" /><circle cx="669.7" cy="735.0" r="8.00" stroke="#151515" stroke-width="1.80" fill="#fff"/><circle cx="669.7" cy="735.0" r="2.60" stroke="#151515" stroke-width="0.90" fill="#fff"/><path d="M669.7 726.6L669.7 743.4" stroke="#555" stroke-width="0.50" /><circle cx="552.2" cy="751.6" r="3.80" stroke="#151515" stroke-width="0.90" fill="#fff"/><path d="M548.4 751.6L556.0 751.6" stroke="#333" stroke-width="0.60" /><path d="M552.2 747.8L552.2 755.4" stroke="#333" stroke-width="0.60" /><path d="M518.1 685.2L518.1 709.0" stroke="#3c3c3c" stroke-width="0.70" /><path d="M573.1 685.2L573.1 709.0" stroke="#3c3c3c" stroke-width="0.70" /><path d="M628.2 685.2L628.2 709.0" stroke="#3c3c3c" stroke-width="0.70" /><path d="M683.2 685.2L683.2 709.0" stroke="#3c3c3c" stroke-width="0.70" /><path d="M518.5 690.2L537.8 690.2" stroke="#3c3c3c" stroke-width="0.70" /><path d="M553.8 690.2L572.7 690.2" stroke="#3c3c3c" stroke-width="0.70" /><path d="M518.5 690.2L524.5 689.1L524.5 691.3Z" stroke="#3c3c3c" stroke-width="0.60" fill="#fff" /><path d="M572.7 690.2L566.7 689.1L566.7 691.3Z" stroke="#3c3c3c" stroke-width="0.60" fill="#fff" /><text x="545.8" y="694.2" font-size="11.0" text-anchor="middle" fill="#383838" stroke="#fff" stroke-width="0.11" >I2</text><path d="M573.5 690.2L592.8 690.2" stroke="#3c3c3c" stroke-width="0.70" /><path d="M608.8 690.2L627.8 690.2" stroke="#3c3c3c" stroke-width="0.70" /><path d="M573.5 690.2L579.5 689.1L579.5 691.3Z" stroke="#3c3c3c" stroke-width="0.60" fill="#fff" /><path d="M627.8 690.2L621.8 689.1L621.8 691.3Z" stroke="#3c3c3c" stroke-width="0.60" fill="#fff" /><text x="600.8" y="694.2" font-size="11.0" text-anchor="middle" fill="#383838" stroke="#fff" stroke-width="0.11" >I2</text><path d="M628.6 690.2L647.8 690.2" stroke="#3c3c3c" stroke-width="0.70" /><path d="M663.8 690.2L682.8 690.2" stroke="#3c3c3c" stroke-width="0.70" /><path d="M628.6 690.2L634.6 689.1L634.6 691.3Z" stroke="#3c3c3c" stroke-width="0.60" fill="#fff" /><path d="M682.8 690.2L676.8 689.1L676.8 691.3Z" stroke="#3c3c3c" stroke-width="0.60" fill="#fff" /><text x="655.8" y="694.2" font-size="11.0" text-anchor="middle" fill="#383838" stroke="#fff" stroke-width="0.11" >I2</text><path d="M494.0 722.4L504.5 722.4" stroke="#3c3c3c" stroke-width="0.70" /><path d="M510.4 722.4L504.9 721.4L504.9 723.4Z" stroke="#3c3c3c" stroke-width="0.60" fill="#fff" /><text x="521.8" y="726.4" font-size="11.0" text-anchor="middle" fill="#383838" stroke="#fff" stroke-width="0.11" >I4</text><path d="M531.5 718.6L531.5 727.0" stroke="#3c3c3c" stroke-width="0.70" /><path d="M531.9 722.4L538.9 721.2L538.9 723.6Z" stroke="#3c3c3c" stroke-width="0.60" fill="#fff" /><path d="M539.0 722.4L590.0 722.4" stroke="#3c3c3c" stroke-width="0.70" /><text x="600.0" y="726.4" font-size="11.0" text-anchor="middle" fill="#383838" stroke="#fff" stroke-width="0.11" >I1*</text><path d="M610.5 722.4L663.0 722.4" stroke="#3c3c3c" stroke-width="0.70" /><path d="M669.3 722.4L662.3 721.2L662.3 723.6Z" stroke="#3c3c3c" stroke-width="0.60" fill="#fff" /><path d="M669.7 718.6L669.7 727.0" stroke="#3c3c3c" stroke-width="0.70" /><path d="M691.4 711.6L709.0 711.6" stroke="#3c3c3c" stroke-width="0.70" /><path d="M691.4 758.2L709.0 758.2" stroke="#3c3c3c" stroke-width="0.70" /><path d="M705.6 712.0L705.6 727.8" stroke="#3c3c3c" stroke-width="0.70" /><path d="M705.6 741.8L705.6 757.8" stroke="#3c3c3c" stroke-width="0.70" /><path d="M705.6 712.0L704.5 718.0L706.7 718.0Z" stroke="#3c3c3c" stroke-width="0.60" fill="#fff" /><path d="M705.6 757.8L704.5 751.8L706.7 751.8Z" stroke="#3c3c3c" stroke-width="0.60" fill="#fff" /><text x="704.8" y="738.6" font-size="10.6" text-anchor="middle" fill="#383838" stroke="#fff" stroke-width="0.09" >I3</text><text x="649.6" y="783.2" font-size="11.0" text-anchor="start" fill="#383838" stroke="#fff" stroke-width="0.11" >g2</text><path d="M629.4 760.6L637.0 775.6Q638.2 777.8 640.8 778.0H646.0" stroke="#3c3c3c" stroke-width="0.70" fill="none" /><text x="484.6" y="783.0" font-size="11.0" text-anchor="start" fill="#383838" stroke="#fff" stroke-width="0.11" letter-spacing=".6">Ød1</text><path d="M511.6 777.8H518.0Q520.4 777.6 521.0 775.0L529.6 743.2" stroke="#3c3c3c" stroke-width="0.70" fill="none" /><rect x="88.7" y="853.3" width="206.0" height="61.1" stroke="#151515" stroke-width="1.50" fill="none"/><path d="M88.7 914.2L294.7 914.2" stroke="#151515" stroke-width="2.00" /><path d="M97.2 853.3L97.2 914.4" stroke="#151515" stroke-width="1.00" /><path d="M107.4 853.3L107.4 914.4" stroke="#151515" stroke-width="1.80" /><path d="M184.2 853.3L184.2 914.4" stroke="#151515" stroke-width="1.20" /><path d="M293.2 853.3L293.2 914.4" stroke="#151515" stroke-width="0.80" /><path d="M107.4 867.8L294.7 867.8" stroke="#151515" stroke-width="1.80" /><path d="M107.4 899.3L294.7 899.3" stroke="#151515" stroke-width="1.80" /><rect x="129.7" y="867.8" width="8.0" height="31.5" stroke="#151515" stroke-width="1.10" fill="none"/><path d="M131.3 867.8L131.3 899.3" stroke="#444" stroke-width="0.60" /><path d="M136.1 867.8L136.1 899.3" stroke="#444" stroke-width="0.60" /><rect x="145.0" y="867.8" width="8.4" height="31.5" stroke="#151515" stroke-width="1.10" fill="none"/><path d="M146.6 867.8L146.6 899.3" stroke="#444" stroke-width="0.60" /><path d="M151.8 867.8L151.8 899.3" stroke="#444" stroke-width="0.60" /><rect x="160.6" y="867.8" width="8.0" height="31.5" stroke="#151515" stroke-width="1.10" fill="none"/><path d="M162.2 867.8L162.2 899.3" stroke="#444" stroke-width="0.60" /><path d="M167.0 867.8L167.0 899.3" stroke="#444" stroke-width="0.60" /><path d="M118.0 874.5L165.0 874.5" stroke="#555" stroke-width="0.60" stroke-dasharray="4 3"/><path d="M118.0 893.4L165.0 893.4" stroke="#555" stroke-width="0.60" stroke-dasharray="4 3"/><circle cx="131.7" cy="861.5" r="5.80" stroke="#151515" stroke-width="2.20" fill="#fff"/><circle cx="131.7" cy="861.5" r="3.10" stroke="#222" stroke-width="0.80" fill="none"/><circle cx="131.7" cy="861.5" r="0.80" stroke="#333" stroke-width="0.60" fill="none"/><circle cx="131.7" cy="907.0" r="5.80" stroke="#151515" stroke-width="2.20" fill="#fff"/><circle cx="131.7" cy="907.0" r="3.10" stroke="#222" stroke-width="0.80" fill="none"/><circle cx="131.7" cy="907.0" r="0.80" stroke="#333" stroke-width="0.60" fill="none"/><circle cx="175.5" cy="861.5" r="5.80" stroke="#151515" stroke-width="2.20" fill="#fff"/><circle cx="175.5" cy="861.5" r="3.10" stroke="#222" stroke-width="0.80" fill="none"/><circle cx="175.5" cy="861.5" r="0.80" stroke="#333" stroke-width="0.60" fill="none"/><circle cx="175.5" cy="907.0" r="5.80" stroke="#151515" stroke-width="2.20" fill="#fff"/><circle cx="175.5" cy="907.0" r="3.10" stroke="#222" stroke-width="0.80" fill="none"/><circle cx="175.5" cy="907.0" r="0.80" stroke="#333" stroke-width="0.60" fill="none"/><circle cx="118.5" cy="874.5" r="3.30" stroke="#151515" stroke-width="2.00" fill="#fff"/><circle cx="118.5" cy="874.5" r="0.80" stroke="#666" stroke-width="0.50" fill="none"/><circle cx="118.5" cy="893.4" r="3.30" stroke="#151515" stroke-width="2.00" fill="#fff"/><circle cx="118.5" cy="893.4" r="0.80" stroke="#666" stroke-width="0.50" fill="none"/><circle cx="133.7" cy="874.5" r="3.30" stroke="#151515" stroke-width="2.00" fill="#fff"/><circle cx="133.7" cy="874.5" r="0.80" stroke="#666" stroke-width="0.50" fill="none"/><circle cx="133.7" cy="893.4" r="3.30" stroke="#151515" stroke-width="2.00" fill="#fff"/><circle cx="133.7" cy="893.4" r="0.80" stroke="#666" stroke-width="0.50" fill="none"/><circle cx="148.9" cy="874.5" r="3.30" stroke="#151515" stroke-width="2.00" fill="#fff"/><circle cx="148.9" cy="874.5" r="0.80" stroke="#666" stroke-width="0.50" fill="none"/><circle cx="148.9" cy="893.4" r="3.30" stroke="#151515" stroke-width="2.00" fill="#fff"/><circle cx="148.9" cy="893.4" r="0.80" stroke="#666" stroke-width="0.50" fill="none"/><circle cx="164.6" cy="874.5" r="3.30" stroke="#151515" stroke-width="2.00" fill="#fff"/><circle cx="164.6" cy="874.5" r="0.80" stroke="#666" stroke-width="0.50" fill="none"/><circle cx="164.6" cy="893.4" r="3.30" stroke="#151515" stroke-width="2.00" fill="#fff"/><circle cx="164.6" cy="893.4" r="0.80" stroke="#666" stroke-width="0.50" fill="none"/><path d="M231.1 867.8L231.1 899.3" stroke="#151515" stroke-width="1.00" /><path d="M233.2 867.8L233.2 899.3" stroke="#151515" stroke-width="1.00" /><rect x="248.3" y="867.8" width="8.0" height="31.5" stroke="#151515" stroke-width="1.10" fill="none"/><rect x="264.3" y="867.8" width="7.9" height="31.5" stroke="#151515" stroke-width="1.10" fill="none"/><path d="M252.0 874.8L284.0 874.8" stroke="#555" stroke-width="0.60" /><path d="M252.0 893.4L284.0 893.4" stroke="#555" stroke-width="0.60" /><circle cx="252.3" cy="874.8" r="3.30" stroke="#151515" stroke-width="2.00" fill="#fff"/><circle cx="252.3" cy="874.8" r="0.80" stroke="#666" stroke-width="0.50" fill="none"/><circle cx="252.3" cy="893.4" r="3.30" stroke="#151515" stroke-width="2.00" fill="#fff"/><circle cx="252.3" cy="893.4" r="0.80" stroke="#666" stroke-width="0.50" fill="none"/><circle cx="268.0" cy="874.8" r="3.30" stroke="#151515" stroke-width="2.00" fill="#fff"/><circle cx="268.0" cy="874.8" r="0.80" stroke="#666" stroke-width="0.50" fill="none"/><circle cx="268.0" cy="893.4" r="3.30" stroke="#151515" stroke-width="2.00" fill="#fff"/><circle cx="268.0" cy="893.4" r="0.80" stroke="#666" stroke-width="0.50" fill="none"/><circle cx="283.9" cy="874.8" r="3.30" stroke="#151515" stroke-width="2.00" fill="#fff"/><circle cx="283.9" cy="874.8" r="0.80" stroke="#666" stroke-width="0.50" fill="none"/><circle cx="283.9" cy="893.4" r="3.30" stroke="#151515" stroke-width="2.00" fill="#fff"/><circle cx="283.9" cy="893.4" r="0.80" stroke="#666" stroke-width="0.50" fill="none"/><path d="M294.7 874.4H298.7V892.5H294.7" stroke="#151515" stroke-width="1.00" fill="none" /><path d="M107.3 948.6H97.6L89.2 952.8V1002.6" stroke="#151515" stroke-width="1.90" fill="none" /><path d="M89.2 1002.6L107.3 1002.6" stroke="#151515" stroke-width="1.60" /><path d="M107.3 1003.2L295.0 1003.2" stroke="#151515" stroke-width="2.00" /><path d="M107.3 952.9V932.2H130.2V937.6H137.8V932.2H145.7V937.6H153.2V932.2H161.1V937.6H168.7V932.2H185.0V952.9" stroke="#151515" stroke-width="1.70" fill="none" /><path d="M106.5 932.6L130.9 932.6" stroke="#151515" stroke-width="2.60" /><path d="M137.1 932.6L146.4 932.6" stroke="#151515" stroke-width="2.60" /><path d="M152.5 932.6L161.8 932.6" stroke="#151515" stroke-width="2.60" /><path d="M168.0 932.6L185.8 932.6" stroke="#151515" stroke-width="2.60" /><path d="M232.7 932.6L249.3 932.6" stroke="#151515" stroke-width="2.60" /><path d="M255.7 932.6L265.2 932.6" stroke="#151515" stroke-width="2.60" /><path d="M271.6 932.6L295.8 932.6" stroke="#151515" stroke-width="2.60" /><path d="M107.3 937.7L185.0 937.7" stroke="#151515" stroke-width="1.10" /><path d="M107.3 952.9L295.0 952.9" stroke="#151515" stroke-width="1.90" /><path d="M233.5 952.9V932.2H248.6V937.3H256.4V932.2H264.5V937.3H272.3V932.2H294.9V1003.2" stroke="#151515" stroke-width="1.80" fill="none" /><path d="M293.2 952.9L293.2 1003.2" stroke="#151515" stroke-width="0.80" /><path d="M294.9 985.8H107.3V992.4" stroke="#151515" stroke-width="1.20" fill="none" /><path d="M107.3 992.4L294.9 992.4" stroke="#151515" stroke-width="2.60" /><path d="M294.9 984.6H298.6V1003.0H294.9" stroke="#151515" stroke-width="1.00" fill="none" /><circle cx="152.6" cy="963.0" r="3.00" stroke="#151515" stroke-width="2.00" fill="#fff"/><path d="M131.0 973.0H139.6L149.6 965.8" stroke="#3c3c3c" stroke-width="0.70" fill="none" /><text x="126.6" y="978.0" font-size="11.5" text-anchor="middle" fill="#383838" stroke="#fff" stroke-width="0.14" >g</text><text x="187.6" y="983.0" font-size="10.9" text-anchor="start" fill="#444" stroke="#fff" stroke-width="0.11" >60mm</text><text x="53.6" y="973.2" font-size="10.2" text-anchor="start" fill="#383838" stroke="#fff" stroke-width="0.08" >sw</text><path d="M69.6 967.2H77.0L87.8 975.8" stroke="#3c3c3c" stroke-width="0.70" fill="none" /><path d="M89.2 1004.2L89.2 1019.2" stroke="#3c3c3c" stroke-width="0.80" /><path d="M294.9 1004.8L294.9 1019.2" stroke="#3c3c3c" stroke-width="0.80" /><path d="M89.6 1016.0L184.0 1016.0" stroke="#3c3c3c" stroke-width="0.70" /><path d="M198.0 1016.0L294.5 1016.0" stroke="#3c3c3c" stroke-width="0.70" /><path d="M89.6 1016.0L95.6 1014.9L95.6 1017.1Z" stroke="#3c3c3c" stroke-width="0.60" fill="#fff" /><path d="M294.5 1016.0L288.5 1014.9L288.5 1017.1Z" stroke="#3c3c3c" stroke-width="0.60" fill="#fff" /><text x="191.0" y="1020.1" font-size="11.5" text-anchor="middle" fill="#383838" stroke="#fff" stroke-width="0.14" >L</text><path d="M317.0 931.5L356.2 931.5" stroke="#3c3c3c" stroke-width="0.70" /><path d="M317.0 1004.4L340.2 1004.4" stroke="#3c3c3c" stroke-width="0.70" /><path d="M321.1 931.9L321.1 962.9" stroke="#3c3c3c" stroke-width="0.70" /><path d="M321.1 976.9L321.1 1004.0" stroke="#3c3c3c" stroke-width="0.70" /><path d="M321.1 931.9L320.0 937.9L322.2 937.9Z" stroke="#3c3c3c" stroke-width="0.60" fill="#fff" /><path d="M321.1 1004.0L320.0 998.0L322.2 998.0Z" stroke="#3c3c3c" stroke-width="0.60" fill="#fff" /><text x="320.4" y="973.7" font-size="10.6" text-anchor="middle" fill="#383838" stroke="#fff" stroke-width="0.09" >H**</text><path d="M340.3 1003.8V938.2H356.2M390.0 938.2H406.4V1003.8" stroke="#151515" stroke-width="1.70" fill="none" /><path d="M339.5 1003.9L407.2 1003.9" stroke="#151515" stroke-width="2.10" /><path d="M356.3 988.1V933.0Q356.3 931.4 357.9 931.4H388.4Q390.0 931.4 390.0 933.0V988.1Z" stroke="#151515" stroke-width="1.50" fill="none" /><path d="M340.3 952.5L356.3 952.5" stroke="#151515" stroke-width="1.80" /><path d="M390.0 952.5L406.4 952.5" stroke="#151515" stroke-width="1.80" /><circle cx="372.7" cy="994.3" r="9.40" stroke="#151515" stroke-width="1.60" fill="#fff"/><circle cx="372.7" cy="994.3" r="7.20" stroke="#151515" stroke-width="0.80" fill="none"/><circle cx="372.7" cy="994.3" r="5.00" stroke="#151515" stroke-width="0.90" fill="none"/><circle cx="372.7" cy="994.3" r="1.60" stroke="#151515" stroke-width="0.90" fill="none"/><path d="M372.7 985.0L372.7 1003.5" stroke="#555" stroke-width="0.50" /><path d="M363.4 994.3L382.0 994.3" stroke="#555" stroke-width="0.50" /><rect x="341.0" y="986.2" width="4.6" height="5.3" stroke="#151515" stroke-width="0.90" fill="none"/><rect x="400.6" y="986.2" width="5.0" height="5.3" stroke="#151515" stroke-width="0.90" fill="none"/><path d="M340.3 1005.4L340.3 1019.2" stroke="#3c3c3c" stroke-width="0.80" /><path d="M406.4 1005.4L406.4 1019.2" stroke="#3c3c3c" stroke-width="0.80" /><path d="M340.7 1015.6L364.9 1015.6" stroke="#3c3c3c" stroke-width="0.70" /><path d="M381.9 1015.6L406.0 1015.6" stroke="#3c3c3c" stroke-width="0.70" /><path d="M340.7 1015.6L346.7 1014.5L346.7 1016.7Z" stroke="#3c3c3c" stroke-width="0.60" fill="#fff" /><path d="M406.0 1015.6L400.0 1014.5L400.0 1016.7Z" stroke="#3c3c3c" stroke-width="0.60" fill="#fff" /><text x="373.4" y="1019.9" font-size="12.0" text-anchor="middle" fill="#383838" stroke="#fff" stroke-width="0.16" >W</text><rect x="89.3" y="1042.2" width="205.4" height="60.4" stroke="#151515" stroke-width="1.90" fill="none"/><path d="M107.7 1042.2L107.7 1102.6" stroke="#151515" stroke-width="2.00" /><path d="M294.7 1062.4H298.5V1081.0H294.7" stroke="#151515" stroke-width="1.00" fill="none" /><path d="M121.8 1050.6L315.0 1050.6" stroke="#151515" stroke-width="0.90" stroke-dasharray="22 4 3 4"/><path d="M121.8 1094.3L315.0 1094.3" stroke="#151515" stroke-width="0.90" stroke-dasharray="22 4 3 4"/><path d="M146.4 1072.5L256.0 1072.5" stroke="#666" stroke-width="0.60" stroke-dasharray="26 4 3 4"/><circle cx="121.8" cy="1050.6" r="3.70" stroke="#151515" stroke-width="3.00" fill="#fff"/><circle cx="121.8" cy="1094.3" r="3.70" stroke="#151515" stroke-width="3.00" fill="#fff"/><path d="M119.8 1050.6L123.8 1050.6" stroke="#555" stroke-width="0.50" /><path d="M119.8 1094.3L123.8 1094.3" stroke="#555" stroke-width="0.50" /><circle cx="161.5" cy="1050.6" r="3.70" stroke="#151515" stroke-width="3.00" fill="#fff"/><circle cx="161.5" cy="1094.3" r="3.70" stroke="#151515" stroke-width="3.00" fill="#fff"/><path d="M159.5 1050.6L163.5 1050.6" stroke="#555" stroke-width="0.50" /><path d="M159.5 1094.3L163.5 1094.3" stroke="#555" stroke-width="0.50" /><circle cx="201.3" cy="1050.6" r="3.70" stroke="#151515" stroke-width="3.00" fill="#fff"/><circle cx="201.3" cy="1094.3" r="3.70" stroke="#151515" stroke-width="3.00" fill="#fff"/><path d="M199.3 1050.6L203.3 1050.6" stroke="#555" stroke-width="0.50" /><path d="M199.3 1094.3L203.3 1094.3" stroke="#555" stroke-width="0.50" /><circle cx="240.9" cy="1050.6" r="3.70" stroke="#151515" stroke-width="3.00" fill="#fff"/><circle cx="240.9" cy="1094.3" r="3.70" stroke="#151515" stroke-width="3.00" fill="#fff"/><path d="M238.9 1050.6L242.9 1050.6" stroke="#555" stroke-width="0.50" /><path d="M238.9 1094.3L242.9 1094.3" stroke="#555" stroke-width="0.50" /><circle cx="280.5" cy="1050.6" r="3.70" stroke="#151515" stroke-width="3.00" fill="#fff"/><circle cx="280.5" cy="1094.3" r="3.70" stroke="#151515" stroke-width="3.00" fill="#fff"/><path d="M278.5 1050.6L282.5 1050.6" stroke="#555" stroke-width="0.50" /><path d="M278.5 1094.3L282.5 1094.3" stroke="#555" stroke-width="0.50" /><circle cx="261.6" cy="1051.5" r="4.40" stroke="#151515" stroke-width="1.30" fill="#fff"/><circle cx="146.4" cy="1072.5" r="7.60" stroke="#151515" stroke-width="1.90" fill="#fff"/><circle cx="146.4" cy="1072.5" r="5.40" stroke="#151515" stroke-width="0.90" fill="none"/><path d="M142.4 1072.5L150.4 1072.5" stroke="#555" stroke-width="0.50" /><path d="M146.4 1068.5L146.4 1076.5" stroke="#555" stroke-width="0.50" /><circle cx="256.0" cy="1072.5" r="7.60" stroke="#151515" stroke-width="1.90" fill="#fff"/><circle cx="256.0" cy="1072.5" r="5.40" stroke="#151515" stroke-width="0.90" fill="none"/><path d="M252.0 1072.5L260.0 1072.5" stroke="#555" stroke-width="0.50" /><path d="M256.0 1068.5L256.0 1076.5" stroke="#555" stroke-width="0.50" /><circle cx="201.3" cy="1072.5" r="4.60" stroke="#151515" stroke-width="3.00" fill="#fff"/><path d="M198.5 1072.5L204.1 1072.5" stroke="#555" stroke-width="0.50" /><path d="M201.3 1069.7L201.3 1075.3" stroke="#555" stroke-width="0.50" /><path d="M121.8 1027.0L121.8 1047.0" stroke="#3c3c3c" stroke-width="0.70" /><path d="M161.5 1027.0L161.5 1047.0" stroke="#3c3c3c" stroke-width="0.70" /><path d="M201.3 1027.0L201.3 1047.0" stroke="#3c3c3c" stroke-width="0.70" /><path d="M240.9 1027.0L240.9 1047.0" stroke="#3c3c3c" stroke-width="0.70" /><path d="M280.5 1027.0L280.5 1047.0" stroke="#3c3c3c" stroke-width="0.70" /><path d="M121.8 1031.1L134.2 1031.1" stroke="#3c3c3c" stroke-width="0.70" /><path d="M149.2 1031.1L161.5 1031.1" stroke="#3c3c3c" stroke-width="0.70" /><path d="M122.2 1031.1L127.2 1030.1L127.2 1032.1Z" stroke="#3c3c3c" stroke-width="0.60" fill="#fff" /><path d="M161.1 1031.1L156.1 1030.1L156.1 1032.1Z" stroke="#3c3c3c" stroke-width="0.60" fill="#fff" /><text x="141.7" y="1035.2" font-size="11.4" text-anchor="middle" fill="#383838" stroke="#fff" stroke-width="0.13" >I2</text><path d="M161.5 1031.1L173.9 1031.1" stroke="#3c3c3c" stroke-width="0.70" /><path d="M188.9 1031.1L201.3 1031.1" stroke="#3c3c3c" stroke-width="0.70" /><path d="M161.9 1031.1L166.9 1030.1L166.9 1032.1Z" stroke="#3c3c3c" stroke-width="0.60" fill="#fff" /><path d="M200.9 1031.1L195.9 1030.1L195.9 1032.1Z" stroke="#3c3c3c" stroke-width="0.60" fill="#fff" /><text x="181.4" y="1035.2" font-size="11.4" text-anchor="middle" fill="#383838" stroke="#fff" stroke-width="0.13" >I2</text><path d="M201.3 1031.1L213.6 1031.1" stroke="#3c3c3c" stroke-width="0.70" /><path d="M228.6 1031.1L240.9 1031.1" stroke="#3c3c3c" stroke-width="0.70" /><path d="M201.7 1031.1L206.7 1030.1L206.7 1032.1Z" stroke="#3c3c3c" stroke-width="0.60" fill="#fff" /><path d="M240.5 1031.1L235.5 1030.1L235.5 1032.1Z" stroke="#3c3c3c" stroke-width="0.60" fill="#fff" /><text x="221.1" y="1035.2" font-size="11.4" text-anchor="middle" fill="#383838" stroke="#fff" stroke-width="0.13" >I2</text><path d="M240.9 1031.1L253.2 1031.1" stroke="#3c3c3c" stroke-width="0.70" /><path d="M268.2 1031.1L280.5 1031.1" stroke="#3c3c3c" stroke-width="0.70" /><path d="M241.3 1031.1L246.3 1030.1L246.3 1032.1Z" stroke="#3c3c3c" stroke-width="0.60" fill="#fff" /><path d="M280.1 1031.1L275.1 1030.1L275.1 1032.1Z" stroke="#3c3c3c" stroke-width="0.60" fill="#fff" /><text x="260.7" y="1035.2" font-size="11.4" text-anchor="middle" fill="#383838" stroke="#fff" stroke-width="0.13" >I2</text><path d="M108.0 1061.9L115.5 1061.9" stroke="#3c3c3c" stroke-width="0.70" /><path d="M108.2 1061.9L113.2 1060.9L113.2 1062.9Z" stroke="#3c3c3c" stroke-width="0.60" fill="#fff" /><text x="126.6" y="1066.0" font-size="11.4" text-anchor="middle" fill="#383838" stroke="#fff" stroke-width="0.13" >I4</text><path d="M134.0 1061.9L155.0 1061.9" stroke="#3c3c3c" stroke-width="0.70" /><path d="M146.4 1057.6L146.4 1066.0" stroke="#3c3c3c" stroke-width="0.70" /><path d="M146.0 1061.9L140.0 1060.7L140.0 1063.1Z" stroke="#3c3c3c" stroke-width="0.60" fill="#fff" /><path d="M146.8 1061.9L152.8 1060.7L152.8 1063.1Z" stroke="#3c3c3c" stroke-width="0.60" fill="#fff" /><path d="M155.0 1061.9L186.0 1061.9" stroke="#3c3c3c" stroke-width="0.70" /><text x="196.4" y="1066.0" font-size="11.4" text-anchor="middle" fill="#383838" stroke="#fff" stroke-width="0.13" >I1*</text><path d="M208.0 1061.9L250.0 1061.9" stroke="#3c3c3c" stroke-width="0.70" /><path d="M255.6 1061.9L249.6 1060.7L249.6 1063.1Z" stroke="#3c3c3c" stroke-width="0.60" fill="#fff" /><path d="M256.0 1057.6L256.0 1066.0" stroke="#3c3c3c" stroke-width="0.70" /><path d="M311.5 1051.0L311.5 1065.5" stroke="#3c3c3c" stroke-width="0.70" /><path d="M311.5 1079.5L311.5 1093.9" stroke="#3c3c3c" stroke-width="0.70" /><path d="M311.5 1051.0L310.4 1057.0L312.6 1057.0Z" stroke="#3c3c3c" stroke-width="0.60" fill="#fff" /><path d="M311.5 1093.9L310.4 1087.9L312.6 1087.9Z" stroke="#3c3c3c" stroke-width="0.60" fill="#fff" /><text x="311.0" y="1076.6" font-size="11.4" text-anchor="middle" fill="#383838" stroke="#fff" stroke-width="0.13" >I3</text><text x="304.8" y="1039.0" font-size="11.6" text-anchor="start" fill="#383838" stroke="#fff" stroke-width="0.14" >g2</text><path d="M303.2 1032.4H296.4L283.0 1048.0" stroke="#3c3c3c" stroke-width="0.70" fill="none" /><text x="94.6" y="1119.6" font-size="11.6" text-anchor="start" fill="#383838" stroke="#fff" stroke-width="0.14" letter-spacing=".5">Ød1</text><path d="M119.2 1114.0H125.5Q128.6 1113.6 130.0 1110.4L141.0 1080.6" stroke="#3c3c3c" stroke-width="0.70" fill="none" /><text x="161.8" y="1119.6" font-size="11.6" text-anchor="start" fill="#383838" stroke="#fff" stroke-width="0.14" >g1</text><path d="M175.8 1114.0H181.5Q184.6 1113.6 186.0 1110.4L197.6 1079.4" stroke="#3c3c3c" stroke-width="0.70" fill="none" /><polyline points="634.3,921.0 665.2,902.6 676.8,904.6 678.0,909.6 681.8,910.6 682.6,915.2 686.4,916.2 687.2,920.6 693.0,922.4" fill="none" stroke="#1a1a1a" stroke-width="1.00" stroke-linejoin="round"/><polyline points="640.0,922.4 662.6,908.6 666.0,928.4" fill="none" stroke="#1a1a1a" stroke-width="0.90" stroke-linejoin="round"/><polyline points="665.2,902.6 668.6,928.6" fill="none" stroke="#1a1a1a" stroke-width="0.90" stroke-linejoin="round"/><polyline points="667.0,931.0 693.0,938.0" fill="none" stroke="#1a1a1a" stroke-width="1.00" stroke-linejoin="round"/><polyline points="671.0,966.6 693.0,972.4" fill="none" stroke="#1a1a1a" stroke-width="1.00" stroke-linejoin="round"/><polyline points="672.6,979.6 693.0,985.0" fill="none" stroke="#1a1a1a" stroke-width="1.00" stroke-linejoin="round"/><polyline points="674.0,986.4 693.0,991.2" fill="none" stroke="#1a1a1a" stroke-width="1.00" stroke-linejoin="round"/><polyline points="674.6,993.0 693.0,997.8" fill="none" stroke="#1a1a1a" stroke-width="0.90" stroke-linejoin="round"/><polyline points="675.3,1010.3 693.0,1014.9" fill="none" stroke="#1a1a1a" stroke-width="1.00" stroke-linejoin="round"/><polyline points="676.0,1004.6 693.0,1009.0" fill="none" stroke="#1a1a1a" stroke-width="0.90" stroke-linejoin="round"/><ellipse cx="681.0" cy="979.4" rx="1.30" ry="1.60" fill="#555" stroke="#1a1a1a" stroke-width="0.80"/><polyline points="687.0,976.0 690.6,978.0 692.4,986.4 688.4,984.6 687.0,976.0" fill="none" stroke="#1a1a1a" stroke-width="0.90" stroke-linejoin="round"/><polygon points="569.6,964.6 624.2,925.9 632.7,998.7 579.3,1037.4" fill="#cfcfcf" stroke="#1a1a1a" stroke-width="1.10" stroke-linejoin="round"/><polygon points="624.2,925.9 634.3,921.0 666.0,928.3 675.3,1010.3 632.7,998.7" fill="#d3d3d3" stroke="#1a1a1a" stroke-width="1.10" stroke-linejoin="round"/><polygon points="579.3,1037.4 632.7,998.7 675.3,1010.3 621.1,1049.7" fill="#d6d6d6" stroke="#1a1a1a" stroke-width="1.10" stroke-linejoin="round"/><polyline points="626.0,926.6 634.4,998.0" fill="none" stroke="#1a1a1a" stroke-width="0.80" stroke-linejoin="round"/><polyline points="581.0,1038.6 634.0,1000.4 675.0,1011.6" fill="none" stroke="#1a1a1a" stroke-width="0.80" stroke-linejoin="round"/><polyline points="571.0,962.4 625.0,924.2 634.6,919.6" fill="none" stroke="#1a1a1a" stroke-width="0.80" stroke-linejoin="round"/><ellipse cx="599.6" cy="970.4" rx="13.60" ry="24.60" fill="#c8c8c8" stroke="#1a1a1a" stroke-width="1.00" transform="rotate(14.0 599.6 970.4)"/><ellipse cx="601.6" cy="969.2" rx="13.40" ry="24.20" fill="#d4d4d4" stroke="#1a1a1a" stroke-width="1.10" transform="rotate(14.0 601.6 969.2)"/><ellipse cx="604.2" cy="970.2" rx="4.40" ry="7.00" fill="#ddd" stroke="#1a1a1a" stroke-width="0.90" transform="rotate(14.0 604.2 970.2)"/><polyline points="603.0,963.8 604.4,970.4 608.0,972.6" fill="none" stroke="#1a1a1a" stroke-width="0.80" stroke-linejoin="round"/><polyline points="604.4,970.4 602.6,976.4" fill="none" stroke="#1a1a1a" stroke-width="0.80" stroke-linejoin="round"/><ellipse cx="617.2" cy="940.6" rx="4.60" ry="7.20" fill="#c4c4c4" stroke="#1a1a1a" stroke-width="1.20" transform="rotate(18.0 617.2 940.6)"/><ellipse cx="617.2" cy="940.6" rx="3.20" ry="5.40" fill="#d8d8d8" stroke="#1a1a1a" stroke-width="0.90" transform="rotate(18.0 617.2 940.6)"/><ellipse cx="617.2" cy="940.6" rx="1.70" ry="3.00" fill="#eee" stroke="#1a1a1a" stroke-width="0.90" transform="rotate(18.0 617.2 940.6)"/><ellipse cx="577.8" cy="969.3" rx="4.60" ry="7.20" fill="#c4c4c4" stroke="#1a1a1a" stroke-width="1.20" transform="rotate(18.0 577.8 969.3)"/><ellipse cx="577.8" cy="969.3" rx="3.20" ry="5.40" fill="#d8d8d8" stroke="#1a1a1a" stroke-width="0.90" transform="rotate(18.0 577.8 969.3)"/><ellipse cx="577.8" cy="969.3" rx="1.70" ry="3.00" fill="#eee" stroke="#1a1a1a" stroke-width="0.90" transform="rotate(18.0 577.8 969.3)"/><ellipse cx="623.4" cy="992.5" rx="4.60" ry="7.20" fill="#c4c4c4" stroke="#1a1a1a" stroke-width="1.20" transform="rotate(18.0 623.4 992.5)"/><ellipse cx="623.4" cy="992.5" rx="3.20" ry="5.40" fill="#d8d8d8" stroke="#1a1a1a" stroke-width="0.90" transform="rotate(18.0 623.4 992.5)"/><ellipse cx="623.4" cy="992.5" rx="1.70" ry="3.00" fill="#eee" stroke="#1a1a1a" stroke-width="0.90" transform="rotate(18.0 623.4 992.5)"/><ellipse cx="584.4" cy="1021.0" rx="4.60" ry="7.20" fill="#c4c4c4" stroke="#1a1a1a" stroke-width="1.20" transform="rotate(18.0 584.4 1021.0)"/><ellipse cx="584.4" cy="1021.0" rx="3.20" ry="5.40" fill="#d8d8d8" stroke="#1a1a1a" stroke-width="0.90" transform="rotate(18.0 584.4 1021.0)"/><ellipse cx="584.4" cy="1021.0" rx="1.70" ry="3.00" fill="#eee" stroke="#1a1a1a" stroke-width="0.90" transform="rotate(18.0 584.4 1021.0)"/><ellipse cx="653.4" cy="971.6" rx="9.60" ry="11.60" fill="#c6c6c6" stroke="#1a1a1a" stroke-width="1.10" transform="rotate(-14.0 653.4 971.6)"/><ellipse cx="655.0" cy="970.4" rx="7.40" ry="9.40" fill="#dadada" stroke="#1a1a1a" stroke-width="1.00" transform="rotate(-14.0 655.0 970.4)"/><ellipse cx="655.6" cy="970.4" rx="2.90" ry="4.00" fill="#eee" stroke="#1a1a1a" stroke-width="1.00" transform="rotate(-10.0 655.6 970.4)"/><polyline points="656.4,969.6 693.0,951.6" fill="none" stroke="#1a1a1a" stroke-width="1.00" stroke-linejoin="round"/><ellipse cx="618.0" cy="1032.7" rx="8.40" ry="4.20" fill="#bdbdbd" stroke="#1a1a1a" stroke-width="1.10" transform="rotate(-8.0 618.0 1032.7)"/><ellipse cx="618.0" cy="1032.7" rx="5.80" ry="2.80" fill="#8a8a8a" stroke="#1a1a1a" stroke-width="0.90" transform="rotate(-8.0 618.0 1032.7)"/><ellipse cx="618.0" cy="1033.0" rx="3.00" ry="1.50" fill="#222" stroke="#1a1a1a" stroke-width="0.80" transform="rotate(-8.0 618.0 1033.0)"/><polyline points="617.4,1034.0 606.2,1065.0" fill="none" stroke="#1a1a1a" stroke-width="1.00" stroke-linejoin="round"/><ellipse cx="669.1" cy="1035.8" rx="11.60" ry="5.40" fill="#fff" stroke="#1a1a1a" stroke-width="1.50" transform="rotate(-8.0 669.1 1035.8)"/><ellipse cx="667.5" cy="1054.4" rx="6.80" ry="3.20" fill="#fff" stroke="#1a1a1a" stroke-width="1.40" transform="rotate(-8.0 667.5 1054.4)"/><ellipse cx="667.5" cy="1054.4" rx="5.20" ry="2.00" fill="#fff" stroke="#1a1a1a" stroke-width="0.70" transform="rotate(-8.0 667.5 1054.4)"/><polyline points="621.1,1049.7 667.5,1061.3" fill="none" stroke="#1a1a1a" stroke-width="1.00" stroke-linejoin="round"/></svg>
<span class="a ss" style="left:50.8px;top:2.7px;font-size:28.4px;letter-spacing:0.30px;color:#fff">五轴固定卡爪台虎钳</span><span class="a sf" style="left:86.2px;top:57.3px;font-size:13.3px;letter-spacing:0.57px;color:#1a1a1a">为一次装夹、多面加工而特别设计。对于模具加工等要求一次装夹</span><span class="a sf" style="left:50.4px;top:75.9px;font-size:13.3px;letter-spacing:0.84px;color:#1a1a1a">的复杂工件是理想的解决方案。该产品外形小巧，但是拥有强大的夹持</span><span class="a sf" style="left:50.4px;top:94.6px;font-size:13.3px;letter-spacing:1.32px;color:#1a1a1a">力。同时有各种各样的卡爪可供选择，这大大提高了台虎钳的应用范</span><span class="a sf" style="left:50.4px;top:113.3px;font-size:13.3px;letter-spacing:0.96px;color:#1a1a1a">围。嵌块式卡爪和V型卡爪在夹持时可以提高工件稳定性。液压型可以</span><span class="a sf" style="left:50.4px;top:132.0px;font-size:13.3px;letter-spacing:0.55px;color:#1a1a1a">实现自动化夹紧。</span><span class="a sf" style="left:62.4px;top:158.9px;font-size:13.3px;letter-spacing:0.50px;color:#1a1a1a">为5轴机械加工特别设计</span><span class="a sf" style="left:62.4px;top:177.0px;font-size:13.3px;letter-spacing:0.50px;color:#1a1a1a">工件待加工面全部开放，可以使用标准短刀具</span><span class="a sf" style="left:62.4px;top:195.1px;font-size:13.3px;letter-spacing:0.50px;color:#1a1a1a">结构简单而坚固，表面平整，易于清理</span><span class="a sf" style="left:62.4px;top:213.2px;font-size:13.3px;letter-spacing:0.50px;color:#1a1a1a">也可作为标准设备上的模块使用</span><span class="a sf" style="left:62.4px;top:231.3px;font-size:13.3px;letter-spacing:0.50px;color:#1a1a1a">多种卡爪可供选择</span><span class="a sf" style="left:741.8px;top:303.1px;font-size:12.8px;letter-spacing:0.35px;color:#111">可选择性卡爪</span><span class="a sf" style="left:49.9px;top:349.8px;font-size:11.8px;letter-spacing:0.60px;color:#222">件号</span><span class="a sf" style="left:103.6px;top:349.8px;font-size:11.8px;letter-spacing:0.60px;color:#222">尺寸</span><span class="a sf" style="left:170.4px;top:331.4px;font-size:11.8px;letter-spacing:0.70px;color:#222">夹紧力</span><span class="a sf" style="left:243.7px;top:331.4px;font-size:11.8px;letter-spacing:0.60px;color:#222">重量</span><span class="a sf" style="left:291.5px;top:349.8px;font-size:11.8px;letter-spacing:0.60px;color:#222">行程</span><span class="a sf" style="left:484.9px;top:331.1px;font-size:11.9px;letter-spacing:0.00px;color:#222">规格尺寸</span><span class="a sf" style="left:792.0px;top:331.0px;font-size:12.3px;letter-spacing:0.25px;color:#222">六角尺寸</span><span class="a sf" style="left:122.4px;top:404.7px;font-size:11.7px;letter-spacing:0.00px;color:#222">液压</span><span class="a ss" style="left:37.3px;top:443.8px;font-size:10.2px;letter-spacing:-0.20px;color:#111;font-weight:bold">注意：每台杰根斯5轴台虎钳都配有台虎钳手柄，不包含卡爪。</span><span class="a ss" style="left:786.3px;top:443.6px;font-size:9.8px;letter-spacing:0.00px;color:#111;font-weight:bold">公差</span><span class="a ss" style="left:785.0px;top:463.5px;font-size:9.8px;letter-spacing:0.00px;color:#111;font-weight:bold">公差</span><span class="a sf" style="left:248.9px;top:815.9px;font-size:21.9px;letter-spacing:0.00px;color:#3a3a3a">液压式</span><span class="a ss" style="left:567.9px;top:864.8px;font-size:12.1px;letter-spacing:0.00px;color:#111;font-weight:bold">液压驱动单元</span><span class="a sf" style="left:729.4px;top:932.1px;font-size:17.6px;letter-spacing:0.00px;color:#3a3a3a">液压接头</span><span class="a ss" style="left:567.9px;top:1080.0px;font-size:12.1px;letter-spacing:0.00px;color:#111;font-weight:bold">插入式接头</span>
<i style="position:absolute;left:51.4px;top:164.8px;width:3.4px;height:3.4px;border-radius:50%;background:#1a1a1a"></i>
<i style="position:absolute;left:51.4px;top:182.9px;width:3.4px;height:3.4px;border-radius:50%;background:#1a1a1a"></i>
<i style="position:absolute;left:51.4px;top:201.0px;width:3.4px;height:3.4px;border-radius:50%;background:#1a1a1a"></i>
<i style="position:absolute;left:51.4px;top:219.1px;width:3.4px;height:3.4px;border-radius:50%;background:#1a1a1a"></i>
<i style="position:absolute;left:51.4px;top:237.2px;width:3.4px;height:3.4px;border-radius:50%;background:#1a1a1a"></i>
<span class="t" style="left:188.3px;transform:translateX(-50%);top:349.2px;font-size:12.00px;color:#222;letter-spacing:-.28px">(kN/Torque Nm)</span><span class="t" style="left:257.4px;transform:translateX(-50%);top:349.2px;font-size:12.00px;color:#222;">(Kg)</span><span class="t" style="left:340.4px;transform:translateX(-50%);top:349.2px;font-size:12.00px;color:#222;">L</span><span class="t" style="left:372.2px;transform:translateX(-50%);top:349.2px;font-size:12.00px;color:#222;">W</span><span class="t" style="left:400.0px;transform:translateX(-50%);top:349.2px;font-size:12.00px;color:#222;">H**</span><span class="t" style="left:437.1px;transform:translateX(-50%);top:349.2px;font-size:12.00px;color:#222;">d1</span><span class="t" style="left:490.7px;transform:translateX(-50%);top:349.2px;font-size:12.00px;color:#222;">g</span><span class="t" style="left:558.5px;transform:translateX(-50%);top:349.2px;font-size:12.00px;color:#222;">g1</span><span class="t" style="left:625.6px;transform:translateX(-50%);top:349.2px;font-size:12.00px;color:#222;">g2</span><span class="t" style="left:681.3px;transform:translateX(-50%);top:349.2px;font-size:12.00px;color:#222;">I1**</span><span class="t" style="left:713.3px;transform:translateX(-50%);top:349.2px;font-size:12.00px;color:#222;">I2</span><span class="t" style="left:739.8px;transform:translateX(-50%);top:349.2px;font-size:12.00px;color:#222;">I3</span><span class="t" style="left:767.6px;transform:translateX(-50%);top:349.2px;font-size:12.00px;color:#222;">I4*</span><span class="t" style="left:817.1px;transform:translateX(-50%);top:349.2px;font-size:12.00px;color:#222;">(mm)</span><span class="t" style="left:537.2px;top:331.0px;font-size:12.00px;color:#222;">(mm)</span><span class="t" style="left:61.7px;transform:translateX(-50%);top:368.8px;font-size:12.00px;color:#222;">80301</span><span class="t" style="left:115.7px;transform:translateX(-50%);top:368.8px;font-size:12.00px;color:#222;">40mm</span><span class="t" style="left:188.0px;transform:translateX(-50%);top:368.8px;font-size:12.00px;color:#222;">8.0 / 15 Nm</span><span class="t" style="left:255.8px;transform:translateX(-50%);top:368.8px;font-size:12.00px;color:#222;">1.3</span><span class="t" style="left:303.4px;transform:translateX(-50%);top:368.8px;font-size:12.00px;color:#222;">–</span><span class="t" style="left:340.0px;transform:translateX(-50%);top:368.8px;font-size:12.00px;color:#222;">117</span><span class="t" style="left:372.3px;transform:translateX(-50%);top:368.8px;font-size:12.00px;color:#222;">40</span><span class="t" style="left:399.5px;transform:translateX(-50%);top:368.8px;font-size:12.00px;color:#222;">44</span><span class="t" style="left:448.3px;transform:translateX(-100%);top:368.8px;font-size:12.00px;color:#222;">6H7</span><span class="t" style="left:469.6px;top:368.8px;font-size:12.00px;color:#222;">M5 x&nbsp;&nbsp; 6</span><span class="t" style="left:557.6px;transform:translateX(-50%);top:368.8px;font-size:12.00px;color:#222;">–</span><span class="t" style="left:605.6px;top:368.8px;font-size:12.00px;color:#222;">M6 x&nbsp;&nbsp; 7</span><span class="t" style="left:692.0px;transform:translateX(-100%);top:368.8px;font-size:12.00px;color:#222;">80</span><span class="t" style="left:713.3px;transform:translateX(-50%);top:368.8px;font-size:12.00px;color:#222;">40</span><span class="t" style="left:739.8px;transform:translateX(-50%);top:368.8px;font-size:12.00px;color:#222;">28</span><span class="t" style="left:767.9px;transform:translateX(-50%);top:368.8px;font-size:12.00px;color:#222;">15</span><span class="t" style="left:817.1px;transform:translateX(-50%);top:368.8px;font-size:12.00px;color:#222;">6</span><span class="t" style="left:61.7px;transform:translateX(-50%);top:386.9px;font-size:12.00px;color:#222;">80401</span><span class="t" style="left:115.7px;transform:translateX(-50%);top:386.9px;font-size:12.00px;color:#222;">60mm</span><span class="t" style="left:188.0px;transform:translateX(-50%);top:386.9px;font-size:12.00px;color:#222;">15.0 / 25 Nm</span><span class="t" style="left:255.8px;transform:translateX(-50%);top:386.9px;font-size:12.00px;color:#222;">3.3</span><span class="t" style="left:303.4px;transform:translateX(-50%);top:386.9px;font-size:12.00px;color:#222;">–</span><span class="t" style="left:340.0px;transform:translateX(-50%);top:386.9px;font-size:12.00px;color:#222;">168</span><span class="t" style="left:372.3px;transform:translateX(-50%);top:386.9px;font-size:12.00px;color:#222;">60</span><span class="t" style="left:399.5px;transform:translateX(-50%);top:386.9px;font-size:12.00px;color:#222;">57</span><span class="t" style="left:448.3px;transform:translateX(-100%);top:386.9px;font-size:12.00px;color:#222;">10F7</span><span class="t" style="left:469.6px;top:386.9px;font-size:12.00px;color:#222;">M6 x 10</span><span class="t" style="left:557.6px;transform:translateX(-50%);top:386.9px;font-size:12.00px;color:#222;">M10 x 11</span><span class="t" style="left:625.2px;transform:translateX(-50%);top:386.9px;font-size:12.00px;color:#222;">M8 x 12</span><span class="t" style="left:692.0px;transform:translateX(-100%);top:386.9px;font-size:12.00px;color:#222;">100</span><span class="t" style="left:713.3px;transform:translateX(-50%);top:386.9px;font-size:12.00px;color:#222;">36</span><span class="t" style="left:739.8px;transform:translateX(-50%);top:386.9px;font-size:12.00px;color:#222;">42</span><span class="t" style="left:767.9px;transform:translateX(-50%);top:386.9px;font-size:12.00px;color:#222;">35</span><span class="t" style="left:817.1px;transform:translateX(-50%);top:386.9px;font-size:12.00px;color:#222;">8</span><span class="t" style="left:61.7px;transform:translateX(-50%);top:405.1px;font-size:12.00px;color:#222;">80501</span><span class="t" style="left:86.0px;top:405.1px;font-size:12.00px;color:#222;letter-spacing:-.05px">60mm</span><span class="t" style="left:188.0px;transform:translateX(-50%);top:405.1px;font-size:12.00px;color:#222;">15.0 / 260 bar</span><span class="t" style="left:255.8px;transform:translateX(-50%);top:405.1px;font-size:12.00px;color:#222;">3.8</span><span class="t" style="left:303.4px;transform:translateX(-50%);top:405.1px;font-size:12.00px;color:#222;">4</span><span class="t" style="left:340.0px;transform:translateX(-50%);top:405.1px;font-size:12.00px;color:#222;">185</span><span class="t" style="left:372.3px;transform:translateX(-50%);top:405.1px;font-size:12.00px;color:#222;">60</span><span class="t" style="left:399.5px;transform:translateX(-50%);top:405.1px;font-size:12.00px;color:#222;">57</span><span class="t" style="left:448.3px;transform:translateX(-100%);top:405.1px;font-size:12.00px;color:#222;">10F7</span><span class="t" style="left:469.6px;top:405.1px;font-size:12.00px;color:#222;">M6 x 10</span><span class="t" style="left:557.6px;transform:translateX(-50%);top:405.1px;font-size:12.00px;color:#222;">M10 x 11</span><span class="t" style="left:625.2px;transform:translateX(-50%);top:405.1px;font-size:12.00px;color:#222;">M8 x 12</span><span class="t" style="left:692.0px;transform:translateX(-100%);top:405.1px;font-size:12.00px;color:#222;">100</span><span class="t" style="left:713.3px;transform:translateX(-50%);top:405.1px;font-size:12.00px;color:#222;">36</span><span class="t" style="left:739.8px;transform:translateX(-50%);top:405.1px;font-size:12.00px;color:#222;">42</span><span class="t" style="left:767.9px;transform:translateX(-50%);top:405.1px;font-size:12.00px;color:#222;">35</span><span class="t" style="left:817.1px;transform:translateX(-50%);top:405.1px;font-size:12.00px;color:#222;">8</span><span class="t" style="left:61.7px;transform:translateX(-50%);top:423.3px;font-size:12.00px;color:#222;">80901</span><span class="t" style="left:115.7px;transform:translateX(-50%);top:423.3px;font-size:12.00px;color:#222;">100mm</span><span class="t" style="left:188.0px;transform:translateX(-50%);top:423.3px;font-size:12.00px;color:#222;">25 / 60Nm</span><span class="t" style="left:255.8px;transform:translateX(-50%);top:423.3px;font-size:12.00px;color:#222;">20</span><span class="t" style="left:303.4px;transform:translateX(-50%);top:423.3px;font-size:12.00px;color:#222;">96</span><span class="t" style="left:340.0px;transform:translateX(-50%);top:423.3px;font-size:12.00px;color:#222;">285</span><span class="t" style="left:372.3px;transform:translateX(-50%);top:423.3px;font-size:12.00px;color:#222;">100</span><span class="t" style="left:399.5px;transform:translateX(-50%);top:423.3px;font-size:12.00px;color:#222;">100</span><span class="t" style="left:413.6px;top:425.6px;font-size:9.3px;color:#222;transform-origin:0 0;transform:scaleX(.80)">25x5/M10x14</span><span class="t" style="left:469.6px;top:423.3px;font-size:12.00px;color:#222;">M8 x 11</span><span class="t" style="left:557.6px;transform:translateX(-50%);top:423.3px;font-size:12.00px;color:#222;">M8 x 11</span><span class="t" style="left:625.2px;transform:translateX(-50%);top:423.3px;font-size:12.00px;color:#222;">M10 x 15</span><span class="t" style="left:692.0px;transform:translateX(-100%);top:423.3px;font-size:12.00px;color:#222;">200</span><span class="t" style="left:713.3px;transform:translateX(-50%);top:423.3px;font-size:12.00px;color:#222;">80</span><span class="t" style="left:739.8px;transform:translateX(-50%);top:423.3px;font-size:12.00px;color:#222;">70</span><span class="t" style="left:767.9px;transform:translateX(-50%);top:423.3px;font-size:12.00px;color:#222;">30</span><span class="t" style="left:817.1px;transform:translateX(-50%);top:423.3px;font-size:12.00px;color:#222;">12</span><span class="t" style="left:37.5px;top:464.0px;font-size:10.20px;color:#111;">Kg x 2.205=lbs</span><span class="t" style="left:117.2px;top:464.0px;font-size:10.20px;color:#111;">Nm x 8.85=in. lbs</span><span class="t" style="left:202.0px;top:464.0px;font-size:10.20px;color:#111;">Kg x 2.205=lbs</span><span class="t" style="left:276.1px;top:464.0px;font-size:10.20px;color:#111;">Bar x 14.5=psi</span><span class="t" style="left:781.8px;top:443.9px;font-size:10.00px;color:#111;">*</span><span class="t" style="left:805.8px;top:443.9px;font-size:10.00px;color:#111;">±0.01mm</span><span class="t" style="left:776.6px;top:463.8px;font-size:10.00px;color:#111;">**</span><span class="t" style="left:804.4px;top:463.8px;font-size:10.00px;color:#111;">±0.02mm</span><span class="t" style="left:208.6px;transform:translateX(-50%);top:483.8px;font-size:22.00px;color:#222;font-weight:bold">40mm</span><span class="t" style="left:589.3px;transform:translateX(-50%);top:484.4px;font-size:21.30px;color:#222;font-weight:bold">100mm</span><span class="t" style="left:97.0px;top:814.7px;font-size:21.60px;color:#222;font-weight:bold">60mm / 60mm</span><span class="t" style="left:239.3px;transform:translateX(-50%);top:782.8px;font-size:18.70px;color:#333;">80301</span><span class="t" style="left:768.5px;transform:translateX(-50%);top:730.9px;font-size:16.40px;color:#333;">80901</span><span class="t" style="left:256.0px;transform:translateX(-50%);top:1128.8px;font-size:17.00px;color:#333;">80401, 80501</span><span class="t" style="left:568.0px;top:881.4px;font-size:11.60px;color:#111;font-weight:bold;transform-origin:0 0;transform:scaleX(.86)">60&nbsp; HVD</span><span class="t" style="left:696.0px;top:943.0px;font-size:12.50px;color:#111;font-weight:bold;transform-origin:0 0;transform:scaleX(.9)">G</span><span class="t" style="left:707.8px;top:940.4px;font-size:9.20px;color:#111;">1</span><span class="t" style="left:711.4px;top:942.9px;font-size:11.00px;color:#111;">/</span><span class="t" style="left:714.8px;top:945.6px;font-size:9.20px;color:#111;">4</span><span class="t" style="left:638.0px;top:1080.8px;font-size:11.60px;color:#111;font-weight:bold;transform-origin:0 0;transform:scaleX(.88)">Ø&nbsp; 10</span>
<div style="position:absolute;left:0;top:958.8px;width:8.9px;height:193.7px;background:#0455a5"></div>
<div style="position:absolute;left:7.5px;top:1150.8px;width:18.5px;height:3px;background:#1a1718"></div>
<div style="position:absolute;left:458.1px;top:1151px;width:447px;height:2.9px;background:#1a1718"></div>
</body></html>
